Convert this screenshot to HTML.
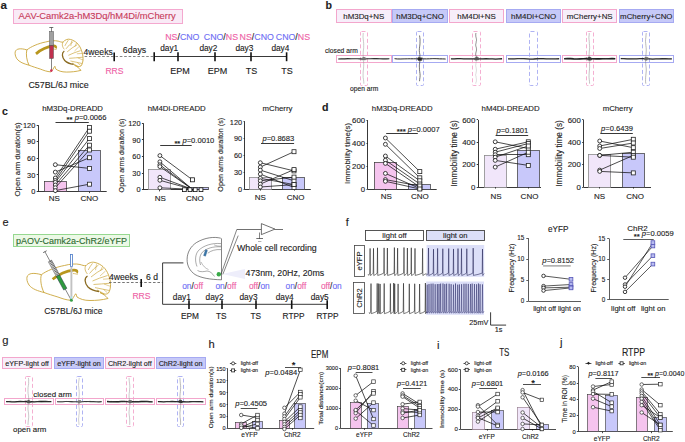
<!DOCTYPE html>
<html><head><meta charset="utf-8"><style>
html,body{margin:0;padding:0;background:#fff;}
body{width:685px;height:442px;overflow:hidden;}
svg{display:block;font-family:"Liberation Sans", sans-serif;}
</style></head><body>
<svg width="685" height="442" viewBox="0 0 685 442">
<rect width="685" height="442" fill="#fff"/>
<text x="0.60" y="9.10" font-size="11.6" fill="#222" stroke="#222" stroke-width="0.12" font-weight="bold">a</text>
<rect x="13.50" y="9.50" width="169.00" height="14.00" fill="#f9eaf6" stroke="#f4a8cf" stroke-width="1"/>
<text x="18.60" y="19.00" font-size="9.4" fill="#c73a5a" stroke="#c73a5a" stroke-width="0.12">AAV-Camk2a-hM3Dq/hM4Di/mCherry</text>
<path d="M15.20,51.88 C16.01,48.45 20.88,48.02 26.89,49.91 C30.63,46.73 38.75,43.29 45.57,42.01 C50.11,40.72 54.98,40.29 58.23,41.15 C59.85,41.58 61.48,42.44 63.10,42.09 C64.73,39.86 67.97,38.57 70.41,39.43 C75.28,40.72 79.34,44.15 81.37,50.17 C83.40,55.32 83.81,61.33 81.37,65.63 C79.34,67.35 76.90,66.49 74.47,65.20 M80.96,70.35 C76.09,71.64 71.22,72.07 66.35,72.07 C61.48,72.07 58.23,70.78 55.80,69.06 C54.98,67.35 55.39,65.63 54.58,66.49 C53.36,68.21 52.55,70.78 50.92,71.90 C46.86,71.64 43.62,70.35 40.29,69.06 C36.31,67.78 32.25,66.49 29.00,65.20 C24.13,63.91 19.26,62.19 16.82,58.76 C15.20,56.18 14.88,53.60 15.20,51.88" stroke="#c8a030" stroke-width="0.85" fill="none"/>
<path d="M26.89,49.91 C25.75,53.60 26.57,60.47 29.00,65.20" stroke="#c8a030" stroke-width="0.85" fill="none"/>
<path d="M35.98,53.86 C40.37,50.17 46.86,46.73 53.03,45.96 C54.98,45.70 56.44,46.73 55.39,48.11" stroke="#b8961e" stroke-width="2.72" fill="none"/>
<path d="M52.55,48.88 C54.17,48.88 55.80,49.74 56.61,49.31" stroke="#c8a030" stroke-width="0.68" fill="none"/>
<path d="M63.10,42.09 C61.48,44.15 62.70,47.59 64.32,49.31" stroke="#c8a030" stroke-width="0.68" fill="none"/>
<path d="M64.89,45.87 Q66.35,42.87 68.38,40.12" stroke="#c8a030" stroke-width="0.6375" fill="none"/>
<path d="M65.94,48.88 Q69.19,44.58 73.25,41.58" stroke="#c8a030" stroke-width="0.6375" fill="none"/>
<path d="M67.16,51.88 Q72.03,47.59 77.31,44.67" stroke="#c8a030" stroke-width="0.6375" fill="none"/>
<path d="M68.38,55.32 Q73.66,52.74 80.64,50.60" stroke="#c8a030" stroke-width="0.6375" fill="none"/>
<path d="M69.19,58.33 Q75.28,57.90 82.75,57.21" stroke="#c8a030" stroke-width="0.6375" fill="none"/>
<path d="M70.41,60.99 Q76.09,62.19 82.02,63.48" stroke="#c8a030" stroke-width="0.6375" fill="none"/>
<path d="M72.03,63.05 Q75.28,64.77 78.12,66.49" stroke="#c8a030" stroke-width="0.6375" fill="none"/>
<path d="M70.82,46.04 L71.63,40.89" stroke="#c8a030" stroke-width="0.51" fill="none"/>
<path d="M74.88,46.56 L76.50,42.87" stroke="#c8a030" stroke-width="0.51" fill="none"/>
<path d="M74.47,51.03 L78.93,46.73" stroke="#c8a030" stroke-width="0.51" fill="none"/>
<path d="M76.90,53.77 L82.02,53.43" stroke="#c8a030" stroke-width="0.51" fill="none"/>
<path d="M77.72,57.90 L83.24,60.04" stroke="#c8a030" stroke-width="0.51" fill="none"/>
<path d="M77.31,62.62 L80.56,65.46" stroke="#c8a030" stroke-width="0.51" fill="none"/>
<path d="M64.32,51.03 C61.48,52.74 61.88,57.04 64.73,60.47 C67.16,63.05 70.41,63.91 73.66,64.34" stroke="#8a6a20" stroke-width="1.275" fill="none"/>
<path d="M74.47,65.20 C76.90,66.49 79.34,68.21 80.96,70.35" stroke="#c8a030" stroke-width="0.85" fill="none"/>
<line x1="51.50" y1="27.50" x2="51.50" y2="70.50" stroke="#333" stroke-width="0.6"/>
<line x1="49.30" y1="27.50" x2="53.30" y2="27.50" stroke="#333" stroke-width="0.7"/>
<rect x="49.50" y="31.50" width="4.00" height="14.00" fill="#a0a0a0" stroke="#555" stroke-width="0.5"/>
<rect x="49.50" y="45.50" width="4.00" height="13.00" fill="#c0304e" stroke="#555" stroke-width="0.5"/>
<circle cx="51.30" cy="70.60" r="1.3" fill="#d0305a" stroke="none" stroke-width="0"/>
<text x="28.40" y="87.60" font-size="8.9" fill="#222" stroke="#222" stroke-width="0.12">C57BL/6J mice</text>
<line x1="84.60" y1="56.50" x2="154.00" y2="56.50" stroke="#777" stroke-width="0.9" stroke-dasharray="2.6,1.8"/>
<text x="83.60" y="54.70" font-size="8.6" fill="#222" stroke="#222" stroke-width="0.12">4weeks</text>
<text x="122.80" y="52.90" font-size="8.8" fill="#222" stroke="#222" stroke-width="0.12">6days</text>
<line x1="114.20" y1="52.60" x2="114.20" y2="61.20" stroke="#111" stroke-width="1.6"/>
<text x="105.40" y="73.60" font-size="8.6" fill="#ee62a6" stroke="#ee62a6" stroke-width="0.12">RRS</text>
<line x1="154.20" y1="56.50" x2="286.60" y2="56.50" stroke="#222" stroke-width="0.9"/>
<line x1="154.20" y1="52.30" x2="154.20" y2="61.20" stroke="#111" stroke-width="1.6"/>
<line x1="178.00" y1="52.30" x2="178.00" y2="61.20" stroke="#111" stroke-width="1.6"/>
<line x1="215.00" y1="52.30" x2="215.00" y2="61.20" stroke="#111" stroke-width="1.6"/>
<line x1="251.00" y1="52.30" x2="251.00" y2="61.20" stroke="#111" stroke-width="1.6"/>
<line x1="286.60" y1="52.30" x2="286.60" y2="61.20" stroke="#111" stroke-width="1.6"/>
<text x="160.20" y="50.50" font-size="8.3" fill="#222" stroke="#222" stroke-width="0.12">day1</text>
<text x="199.40" y="50.50" font-size="8.3" fill="#222" stroke="#222" stroke-width="0.12">day2</text>
<text x="235.40" y="50.50" font-size="8.3" fill="#222" stroke="#222" stroke-width="0.12">day3</text>
<text x="271.40" y="50.50" font-size="8.3" fill="#222" stroke="#222" stroke-width="0.12">day4</text>
<text x="165.20" y="39.60" font-size="8.8" stroke-width="0.12"><tspan fill="#ee62a6" stroke="#ee62a6">NS</tspan><tspan fill="#222" stroke="#222">/</tspan><tspan fill="#6e6ef4" stroke="#6e6ef4">CNO</tspan></text>
<text x="203.80" y="39.60" font-size="8.8" stroke-width="0.12"><tspan fill="#6e6ef4" stroke="#6e6ef4">CNO</tspan><tspan fill="#222" stroke="#222">/</tspan><tspan fill="#ee62a6" stroke="#ee62a6">NS</tspan></text>
<text x="239.60" y="39.60" font-size="8.8" stroke-width="0.12"><tspan fill="#ee62a6" stroke="#ee62a6">NS</tspan><tspan fill="#222" stroke="#222">/</tspan><tspan fill="#6e6ef4" stroke="#6e6ef4">CNO</tspan></text>
<text x="275.80" y="39.60" font-size="8.8" stroke-width="0.12"><tspan fill="#6e6ef4" stroke="#6e6ef4">CNO</tspan><tspan fill="#222" stroke="#222">/</tspan><tspan fill="#ee62a6" stroke="#ee62a6">NS</tspan></text>
<text x="170.20" y="74.00" font-size="9.0" fill="#222" stroke="#222" stroke-width="0.12">EPM</text>
<text x="207.70" y="74.00" font-size="9.0" fill="#222" stroke="#222" stroke-width="0.12">EPM</text>
<text x="245.70" y="74.00" font-size="9.0" fill="#222" stroke="#222" stroke-width="0.12">TS</text>
<text x="281.20" y="74.00" font-size="9.0" fill="#222" stroke="#222" stroke-width="0.12">TS</text>
<text x="325.60" y="8.90" font-size="10.6" fill="#222" stroke="#222" stroke-width="0.12" font-weight="bold">b</text>
<rect x="336.50" y="9.50" width="55.00" height="13.00" fill="#f7eefa" stroke="#f3a6cc" stroke-width="1"/>
<text x="363.80" y="18.60" font-size="7.9" fill="#222" stroke="#222" stroke-width="0.12" text-anchor="middle">hM3Dq+NS</text>
<rect x="360.50" y="31.50" width="7.00" height="54.00" fill="none" stroke="#f3a6cc" stroke-width="0.9" stroke-dasharray="4,2.4" rx="1"/>
<rect x="336.50" y="55.50" width="55.00" height="7.00" fill="none" stroke="#f3a6cc" stroke-width="1"/>
<polyline points="363.23,33.0 363.10,35.1 363.00,37.2 363.27,39.3 363.50,41.5 363.68,43.6 363.68,45.7 363.69,47.8 363.45,49.9 363.19,52.0 363.17,54.1 363.17,56.2 363.11,58.4 363.52,60.5 363.68,62.6 363.72,64.7 363.63,66.8 363.51,68.9 363.23,71.0 363.12,73.1 363.10,75.2 363.14,77.4 363.50,79.5 363.76,81.6 363.85,83.7" fill="none" stroke="#8a8a8a" stroke-width="0.45" stroke-opacity="1.0"/>
<polyline points="338.2,58.99 341.4,58.90 344.6,58.89 347.8,58.66 351.0,58.79 354.2,58.74 357.4,58.79 360.6,58.89 363.8,59.08 367.0,58.75 370.2,58.82 373.4,58.63 376.6,58.61 379.8,58.79 383.0,58.86 386.2,58.85 389.4,58.82" fill="none" stroke="#2a2a2a" stroke-width="1.1" stroke-opacity="1.0"/>
<polyline points="339.1,58.98 341.2,58.42 343.2,58.50 345.3,58.83 347.3,59.11 349.4,59.20 351.5,58.82 353.5,58.64 355.6,58.52 357.6,58.59 359.7,58.89 361.7,58.96 363.8,59.39 365.9,59.19 367.9,58.70 370.0,58.57 372.0,58.43 374.1,58.95 376.1,58.94 378.2,59.08 380.3,58.88 382.3,58.69 384.4,58.59 386.4,58.72 388.5,58.99" fill="none" stroke="#666" stroke-width="0.3" stroke-opacity="1.0"/>
<polyline points="365.15,59.29 365.18,58.83 363.84,57.07 361.58,59.14 361.50,59.39 363.05,58.30 362.16,58.22 362.62,58.59 363.42,57.95 363.41,59.77 363.68,59.68 363.84,57.10 365.74,59.10 365.64,59.59 362.21,59.64 363.97,56.97 363.22,57.77 365.45,59.69 361.40,58.38 364.63,58.19 361.94,59.73 361.57,59.80 365.47,58.91 365.19,57.11 362.50,58.76 362.57,58.16 363.30,57.65 364.51,60.29 364.04,57.36 362.16,57.93 363.60,58.78 362.11,60.19 361.50,58.67 364.28,58.69 363.55,57.36 365.02,58.82 362.04,58.86 364.86,57.90 364.19,57.50 366.21,58.08" fill="none" stroke="#777" stroke-width="0.35"/>
<rect x="392.50" y="9.50" width="55.00" height="13.00" fill="#c6c9f8" stroke="#a6aaf2" stroke-width="1"/>
<text x="420.10" y="18.60" font-size="7.9" fill="#222" stroke="#222" stroke-width="0.12" text-anchor="middle">hM3Dq+CNO</text>
<rect x="416.50" y="31.50" width="7.00" height="54.00" fill="none" stroke="#a6aaf2" stroke-width="0.9" stroke-dasharray="4,2.4" rx="1"/>
<rect x="392.50" y="55.50" width="55.00" height="7.00" fill="none" stroke="#a6aaf2" stroke-width="1"/>
<polyline points="419.54,35.5 419.79,37.4 420.04,39.3 420.00,41.2 420.01,43.1 419.87,45.0 419.62,46.9 419.39,48.8 419.30,50.7 419.49,52.6 419.85,54.5 419.87,56.4 420.01,58.3 420.07,60.3 419.77,62.2 419.48,64.1 419.34,66.0 419.45,67.9 419.48,69.8 419.73,71.7 419.99,73.6 420.11,75.5 419.97,77.4 419.68,79.3 419.55,81.2" fill="none" stroke="#3a3a3a" stroke-width="0.7" stroke-opacity="1.0"/>
<polyline points="394.5,58.66 397.7,58.91 400.9,59.01 404.1,58.89 407.3,58.79 410.5,58.71 413.7,58.72 416.9,58.82 420.1,58.88 423.3,58.83 426.5,58.84 429.7,58.76 432.9,58.62 436.1,58.61 439.3,58.75 442.5,58.85 445.7,59.05" fill="none" stroke="#333" stroke-width="1.0" stroke-opacity="1.0"/>
<polyline points="395.4,59.06 397.5,59.33 399.5,59.06 401.6,58.55 403.6,58.62 405.7,58.80 407.8,58.87 409.8,58.94 411.9,59.39 413.9,59.02 416.0,58.63 418.0,58.43 420.1,58.68 422.2,58.82 424.2,58.98 426.3,59.28 428.3,59.02 430.4,58.92 432.5,58.58 434.5,58.69 436.6,58.95 438.6,59.22 440.7,59.47 442.7,59.02 444.8,58.63" fill="none" stroke="#666" stroke-width="0.3" stroke-opacity="1.0"/>
<polyline points="420.30,57.01 419.05,59.34 418.87,56.82 417.78,59.71 422.08,59.17 420.69,60.30 418.12,57.47 417.52,58.50 419.63,59.51 417.79,59.21 419.96,58.39 420.11,59.93 417.54,59.17 420.02,59.28 422.19,57.55 420.17,58.36 420.02,59.74 420.95,58.40 421.02,59.56 420.42,57.84 421.65,58.67 419.38,58.01 419.42,60.81 421.48,58.78 419.71,59.24 420.69,60.10 418.00,58.58 419.45,59.52 418.55,58.35 418.55,60.63 419.81,58.66 422.76,58.21 417.97,60.21 422.22,60.12 421.37,60.62 418.89,56.83 419.37,60.51 421.04,58.51 420.93,60.33 420.54,59.19" fill="none" stroke="#222" stroke-width="0.35"/>
<rect x="449.50" y="9.50" width="54.00" height="13.00" fill="#f7eefa" stroke="#f3a6cc" stroke-width="1"/>
<text x="476.50" y="18.60" font-size="7.9" fill="#222" stroke="#222" stroke-width="0.12" text-anchor="middle">hM4Di+NS</text>
<rect x="472.50" y="31.50" width="8.00" height="54.00" fill="none" stroke="#f3a6cc" stroke-width="0.9" stroke-dasharray="4,2.4" rx="1"/>
<rect x="449.50" y="55.50" width="54.00" height="7.00" fill="none" stroke="#f3a6cc" stroke-width="1"/>
<polyline points="475.97,33.0 475.72,34.1 475.78,35.1 475.79,36.2 476.01,37.2 476.28,38.3 476.47,39.3 476.52,40.4 476.24,41.5 476.11,42.5 475.92,43.6 475.70,44.6 475.76,45.7 476.00,46.7 476.37,47.8 476.46,48.8 476.50,49.9 476.34,51.0 476.04,52.0 475.82,53.1 475.66,54.1 475.76,55.2 476.14,56.2 476.34,57.3 476.50,58.4" fill="none" stroke="#444" stroke-width="0.6" stroke-opacity="1.0"/>
<polyline points="476.05,58.4 476.32,59.4 476.49,60.5 476.31,61.5 476.11,62.6 475.90,63.6 475.84,64.7 475.69,65.7 475.95,66.8 476.17,67.9 476.27,68.9 476.46,70.0 476.37,71.0 476.17,72.1 476.05,73.1 475.69,74.2 475.66,75.2 476.00,76.3 476.12,77.4 476.29,78.4 476.41,79.5 476.35,80.5 476.28,81.6 475.88,82.6 475.72,83.7" fill="none" stroke="#aaa" stroke-width="0.4" stroke-opacity="1.0"/>
<polyline points="450.9,58.93 454.1,58.93 457.3,58.70 460.5,58.59 463.7,58.79 466.9,58.82 470.1,58.90 473.3,58.91 476.5,58.94 479.7,58.80 482.9,58.78 486.1,58.62 489.3,58.85 492.5,58.92 495.7,59.04 498.9,58.92 502.1,58.76" fill="none" stroke="#222" stroke-width="1.3" stroke-opacity="1.0"/>
<polyline points="451.8,58.95 453.9,59.07 455.9,59.12 458.0,58.96 460.0,58.90 462.1,58.55 464.1,58.84 466.2,58.77 468.3,58.88 470.3,59.10 472.4,59.15 474.4,58.73 476.5,58.53 478.6,58.43 480.6,58.90 482.7,59.29 484.7,59.11 486.8,58.91 488.9,58.88 490.9,58.47 493.0,58.49 495.0,58.73 497.1,59.02 499.1,59.25 501.2,59.12" fill="none" stroke="#666" stroke-width="0.3" stroke-opacity="1.0"/>
<polyline points="478.51,59.83 475.53,58.23 476.87,57.22 477.46,57.36 476.12,56.99 476.05,59.33 477.21,58.37 474.07,58.08 475.72,59.66 475.64,59.43 476.50,57.66 478.30,59.51 476.44,59.68 478.87,59.00 475.05,59.92 474.09,59.03 478.39,59.48 477.16,57.83 475.12,59.29 475.37,60.61 476.80,60.57 478.71,59.30 478.52,59.69 477.60,59.19 476.38,59.90 476.81,57.34 477.57,59.05 474.59,59.65 475.36,57.69 477.39,56.91 478.96,58.15 478.76,57.80 476.05,57.11 475.09,58.15 477.34,57.70 477.93,58.03 478.87,59.07 476.32,58.81 477.46,57.11 477.76,57.81" fill="none" stroke="#555" stroke-width="0.35"/>
<rect x="506.50" y="9.50" width="54.00" height="13.00" fill="#c6c9f8" stroke="#a6aaf2" stroke-width="1"/>
<text x="533.60" y="18.60" font-size="7.9" fill="#222" stroke="#222" stroke-width="0.12" text-anchor="middle">hM4Di+CNO</text>
<rect x="529.50" y="31.50" width="8.00" height="54.00" fill="none" stroke="#a6aaf2" stroke-width="0.9" stroke-dasharray="4,2.4" rx="1"/>
<rect x="506.50" y="55.50" width="54.00" height="7.00" fill="none" stroke="#a6aaf2" stroke-width="1"/>
<polyline points="508.0,58.86 511.2,58.79 514.4,58.86 517.6,58.68 520.8,58.71 524.0,58.71 527.2,58.80 530.4,59.07 533.6,58.98 536.8,58.75 540.0,58.70 543.2,58.68 546.4,58.80 549.6,58.90 552.8,58.89 556.0,58.93 559.2,58.77" fill="none" stroke="#2a2a2a" stroke-width="1.3" stroke-opacity="1.0"/>
<polyline points="508.9,58.88 511.0,58.97 513.0,59.42 515.1,58.87 517.1,58.65 519.2,58.49 521.2,58.70 523.3,58.77 525.4,59.11 527.4,59.23 529.5,59.11 531.5,58.72 533.6,58.43 535.7,58.70 537.7,58.70 539.8,59.25 541.8,59.37 543.9,59.17 546.0,58.93 548.0,58.53 550.1,58.73 552.1,58.67 554.2,58.93 556.2,59.04 558.3,59.07" fill="none" stroke="#666" stroke-width="0.3" stroke-opacity="1.0"/>
<rect x="562.50" y="9.50" width="54.00" height="13.00" fill="#f7eefa" stroke="#f3a6cc" stroke-width="1"/>
<text x="589.70" y="18.60" font-size="7.9" fill="#222" stroke="#222" stroke-width="0.12" text-anchor="middle">mCherry+NS</text>
<rect x="586.50" y="31.50" width="7.00" height="54.00" fill="none" stroke="#f3a6cc" stroke-width="0.9" stroke-dasharray="4,2.4" rx="1"/>
<rect x="562.50" y="55.50" width="54.00" height="7.00" fill="none" stroke="#f3a6cc" stroke-width="1"/>
<polyline points="589.26,33.0 589.11,35.1 588.90,37.2 588.99,39.3 589.28,41.5 589.33,43.6 589.56,45.7 589.68,47.8 589.44,49.9 589.23,52.0 589.14,54.1 589.06,56.2 588.96,58.4 589.12,60.5 589.52,62.6 589.57,64.7 589.67,66.8 589.54,68.9 589.32,71.0 589.16,73.1 589.05,75.2 589.04,77.4 589.26,79.5 589.49,81.6 589.64,83.7" fill="none" stroke="#888" stroke-width="0.5" stroke-opacity="1.0"/>
<polyline points="564.1,58.73 567.3,58.63 570.5,58.60 573.7,58.92 576.9,59.03 580.1,58.87 583.3,58.82 586.5,58.60 589.7,58.66 592.9,58.74 596.1,58.88 599.3,58.90 602.5,58.78 605.7,58.77 608.9,58.81 612.1,58.56 615.3,58.70" fill="none" stroke="#1a1a1a" stroke-width="1.6" stroke-opacity="1.0"/>
<polyline points="565.0,58.83 567.1,58.89 569.1,59.19 571.2,59.03 573.2,58.89 575.3,58.63 577.4,58.66 579.4,58.69 581.5,59.14 583.5,59.29 585.6,59.42 587.6,59.04 589.7,58.94 591.8,58.45 593.8,58.90 595.9,59.12 597.9,59.52 600.0,59.23 602.1,58.99 604.1,58.71 606.2,58.47 608.2,58.85 610.3,59.15 612.3,59.10 614.4,59.09" fill="none" stroke="#666" stroke-width="0.3" stroke-opacity="1.0"/>
<polyline points="587.52,59.56 587.78,58.44 590.33,57.86 591.69,58.55 591.66,59.92 590.07,60.99 589.19,57.88 591.25,58.51 589.91,58.75 589.04,60.49 589.43,60.08 591.43,59.86 590.58,57.79 588.74,57.36 588.82,56.68 588.06,58.48 587.36,59.06 592.48,58.78 589.42,59.45 590.90,58.47 589.25,58.02 587.32,58.78 591.30,58.41 587.46,59.72 588.78,58.72 588.97,59.73 589.81,57.00 591.39,59.62 590.07,56.77 589.35,57.11 586.98,59.00 588.32,59.04 589.16,60.10 588.48,59.45 587.85,60.26 590.28,59.46 589.86,59.72 592.24,58.59 589.75,58.72 588.57,57.11" fill="none" stroke="#333" stroke-width="0.35"/>
<rect x="619.50" y="9.50" width="54.00" height="13.00" fill="#c6c9f8" stroke="#a6aaf2" stroke-width="1"/>
<text x="646.30" y="18.60" font-size="7.9" fill="#222" stroke="#222" stroke-width="0.12" text-anchor="middle">mCherry+CNO</text>
<rect x="642.50" y="31.50" width="7.00" height="54.00" fill="none" stroke="#a6aaf2" stroke-width="0.9" stroke-dasharray="4,2.4" rx="1"/>
<rect x="619.50" y="55.50" width="54.00" height="7.00" fill="none" stroke="#a6aaf2" stroke-width="1"/>
<polyline points="646.24,33.0 646.02,35.1 645.90,37.2 645.62,39.3 645.51,41.5 645.72,43.6 645.91,45.7 646.16,47.8 646.27,49.9 646.16,52.0 646.04,54.1 645.77,56.2 645.69,58.4 645.45,60.5 645.70,62.6 645.78,64.7 646.05,66.8 646.26,68.9 646.26,71.0 646.06,73.1 645.83,75.2 645.64,77.4 645.57,79.5 645.56,81.6 645.82,83.7" fill="none" stroke="#777" stroke-width="0.5" stroke-opacity="1.0"/>
<polyline points="620.7,58.61 623.9,58.67 627.1,58.88 630.3,58.96 633.5,58.90 636.7,58.83 639.9,58.70 643.1,58.58 646.3,58.80 649.5,58.91 652.7,59.03 655.9,58.81 659.1,58.84 662.3,58.62 665.5,58.73 668.7,58.84 671.9,58.83" fill="none" stroke="#222" stroke-width="1.3" stroke-opacity="1.0"/>
<polyline points="621.6,58.26 623.7,58.65 625.7,59.02 627.8,59.11 629.8,59.32 631.9,59.10 633.9,58.83 636.0,58.65 638.1,58.65 640.1,58.73 642.2,59.24 644.2,59.08 646.3,59.07 648.4,58.69 650.4,58.48 652.5,58.68 654.5,58.87 656.6,58.92 658.6,59.01 660.7,59.17 662.8,58.65 664.8,58.51 666.9,58.74 668.9,59.09 671.0,59.16" fill="none" stroke="#666" stroke-width="0.3" stroke-opacity="1.0"/>
<polyline points="647.62,58.86 646.11,57.04 648.18,57.65 646.79,59.70 644.39,58.54 647.02,60.35 646.00,60.36 645.48,57.97 644.53,59.53 645.05,58.45 647.61,58.37 645.99,59.36 648.20,58.29 645.44,57.62 646.40,59.00 644.28,58.17 647.04,58.76 646.88,59.00 647.48,60.17 645.32,57.26 645.55,59.32 647.91,57.38 646.72,59.11 647.35,59.49 645.20,57.46 646.48,59.58 643.99,58.38 646.87,58.77 646.65,59.04 644.75,58.45 646.21,57.70 647.49,57.40 645.75,60.60 646.18,58.73 646.32,57.25 645.93,57.37 644.66,59.79 646.00,58.50 644.85,59.39 645.87,60.33" fill="none" stroke="#666" stroke-width="0.35"/>
<text x="325.00" y="52.60" font-size="6.7" fill="#222" stroke="#222" stroke-width="0.12">closed arm</text>
<text x="350.00" y="91.00" font-size="6.7" fill="#222" stroke="#222" stroke-width="0.12">open arm</text>
<line x1="38.50" y1="125.10" x2="38.50" y2="191.50" stroke="#222" stroke-width="0.9"/>
<line x1="36.70" y1="191.50" x2="38.00" y2="191.50" stroke="#222" stroke-width="0.9"/>
<text x="35.30" y="194.16" font-size="7.4" fill="#222" stroke="#222" stroke-width="0.12" text-anchor="end">0</text>
<line x1="36.70" y1="174.50" x2="38.00" y2="174.50" stroke="#222" stroke-width="0.9"/>
<text x="35.30" y="177.56" font-size="7.4" fill="#222" stroke="#222" stroke-width="0.12" text-anchor="end">30</text>
<line x1="36.70" y1="158.50" x2="38.00" y2="158.50" stroke="#222" stroke-width="0.9"/>
<text x="35.30" y="160.96" font-size="7.4" fill="#222" stroke="#222" stroke-width="0.12" text-anchor="end">60</text>
<line x1="36.70" y1="141.50" x2="38.00" y2="141.50" stroke="#222" stroke-width="0.9"/>
<text x="35.30" y="144.36" font-size="7.4" fill="#222" stroke="#222" stroke-width="0.12" text-anchor="end">90</text>
<line x1="36.70" y1="125.50" x2="38.00" y2="125.50" stroke="#222" stroke-width="0.9"/>
<text x="35.30" y="127.76" font-size="7.4" fill="#222" stroke="#222" stroke-width="0.12" text-anchor="end">120</text>
<line x1="38.00" y1="191.50" x2="106.70" y2="191.50" stroke="#222" stroke-width="0.9"/>
<rect x="44.50" y="181.50" width="22.00" height="10.00" fill="#f5c4ee" stroke="#333" stroke-width="0.7"/>
<rect x="78.50" y="150.50" width="22.00" height="41.00" fill="#c8c8fa" stroke="#333" stroke-width="0.7"/>
<line x1="55.50" y1="191.50" x2="55.50" y2="193.10" stroke="#222" stroke-width="0.8"/>
<line x1="89.50" y1="191.50" x2="89.50" y2="193.10" stroke="#222" stroke-width="0.8"/>
<line x1="55.30" y1="164.70" x2="89.40" y2="168.40" stroke="#111" stroke-width="0.75"/>
<line x1="55.30" y1="172.10" x2="89.40" y2="157.70" stroke="#111" stroke-width="0.75"/>
<line x1="55.30" y1="178.00" x2="89.40" y2="127.40" stroke="#111" stroke-width="0.75"/>
<line x1="55.30" y1="180.50" x2="89.40" y2="131.20" stroke="#111" stroke-width="0.75"/>
<line x1="55.30" y1="182.30" x2="89.40" y2="138.60" stroke="#111" stroke-width="0.75"/>
<line x1="55.30" y1="185.00" x2="89.40" y2="145.20" stroke="#111" stroke-width="0.75"/>
<line x1="55.30" y1="187.70" x2="89.40" y2="150.00" stroke="#111" stroke-width="0.75"/>
<line x1="55.30" y1="190.60" x2="89.40" y2="184.20" stroke="#111" stroke-width="0.75"/>
<circle cx="55.30" cy="164.70" r="1.95" fill="#fff" stroke="#111" stroke-width="0.8"/>
<circle cx="55.30" cy="172.10" r="1.95" fill="#fff" stroke="#111" stroke-width="0.8"/>
<circle cx="55.30" cy="178.00" r="1.95" fill="#fff" stroke="#111" stroke-width="0.8"/>
<circle cx="55.30" cy="180.50" r="1.95" fill="#fff" stroke="#111" stroke-width="0.8"/>
<circle cx="55.30" cy="182.30" r="1.95" fill="#fff" stroke="#111" stroke-width="0.8"/>
<circle cx="55.30" cy="185.00" r="1.95" fill="#fff" stroke="#111" stroke-width="0.8"/>
<circle cx="55.30" cy="187.70" r="1.95" fill="#fff" stroke="#111" stroke-width="0.8"/>
<circle cx="55.30" cy="190.60" r="1.95" fill="#fff" stroke="#111" stroke-width="0.8"/>
<rect x="87.40" y="166.40" width="4.0" height="4.0" fill="#fff" stroke="#222" stroke-width="0.8"/>
<rect x="87.40" y="155.70" width="4.0" height="4.0" fill="#fff" stroke="#222" stroke-width="0.8"/>
<rect x="87.40" y="125.40" width="4.0" height="4.0" fill="#fff" stroke="#222" stroke-width="0.8"/>
<rect x="87.40" y="129.20" width="4.0" height="4.0" fill="#fff" stroke="#222" stroke-width="0.8"/>
<rect x="87.40" y="136.60" width="4.0" height="4.0" fill="#fff" stroke="#222" stroke-width="0.8"/>
<rect x="87.40" y="143.20" width="4.0" height="4.0" fill="#fff" stroke="#222" stroke-width="0.8"/>
<rect x="87.40" y="148.00" width="4.0" height="4.0" fill="#fff" stroke="#222" stroke-width="0.8"/>
<rect x="87.40" y="182.20" width="4.0" height="4.0" fill="#fff" stroke="#222" stroke-width="0.8"/>
<text x="72.60" y="111.40" font-size="7.8" fill="#222" stroke="#222" stroke-width="0.12" text-anchor="middle">hM3Dq-DREADD</text>
<line x1="55.50" y1="122.50" x2="88.80" y2="122.50" stroke="#222" stroke-width="0.9"/>
<text x="66.60" y="119.70" font-size="7.6" fill="#222" stroke="#222" stroke-width="0.12"><tspan dy="2.58" font-weight="bold">**</tspan><tspan dy="-2.58"> </tspan><tspan font-style="italic">p</tspan><tspan>=0.0066</tspan></text>
<text x="54.40" y="201.00" font-size="8.0" fill="#222" stroke="#222" stroke-width="0.12" text-anchor="middle">NS</text>
<text x="89.30" y="201.00" font-size="8.0" fill="#222" stroke="#222" stroke-width="0.12" text-anchor="middle">CNO</text>
<text x="0" y="0" font-size="7.8" fill="#222" stroke="#222" stroke-width="0.12" text-anchor="middle" transform="translate(20.01,159.40) rotate(-90)">Open arm duration(s)</text>
<text x="2.00" y="114.60" font-size="10.6" fill="#222" stroke="#222" stroke-width="0.12" font-weight="bold">c</text>
<line x1="143.50" y1="123.20" x2="143.50" y2="189.80" stroke="#222" stroke-width="0.9"/>
<line x1="141.90" y1="189.50" x2="143.20" y2="189.50" stroke="#222" stroke-width="0.9"/>
<text x="140.50" y="192.46" font-size="7.4" fill="#222" stroke="#222" stroke-width="0.12" text-anchor="end">0</text>
<line x1="141.90" y1="173.50" x2="143.20" y2="173.50" stroke="#222" stroke-width="0.9"/>
<text x="140.50" y="175.81" font-size="7.4" fill="#222" stroke="#222" stroke-width="0.12" text-anchor="end">30</text>
<line x1="141.90" y1="156.50" x2="143.20" y2="156.50" stroke="#222" stroke-width="0.9"/>
<text x="140.50" y="159.16" font-size="7.4" fill="#222" stroke="#222" stroke-width="0.12" text-anchor="end">60</text>
<line x1="141.90" y1="139.50" x2="143.20" y2="139.50" stroke="#222" stroke-width="0.9"/>
<text x="140.50" y="142.51" font-size="7.4" fill="#222" stroke="#222" stroke-width="0.12" text-anchor="end">90</text>
<line x1="141.90" y1="123.50" x2="143.20" y2="123.50" stroke="#222" stroke-width="0.9"/>
<text x="140.50" y="125.86" font-size="7.4" fill="#222" stroke="#222" stroke-width="0.12" text-anchor="end">120</text>
<line x1="143.20" y1="189.50" x2="208.60" y2="189.50" stroke="#222" stroke-width="0.9"/>
<rect x="148.50" y="169.50" width="22.00" height="20.00" fill="#f1e6fa" stroke="#8a8a8a" stroke-width="0.8"/>
<rect x="187.50" y="187.50" width="21.00" height="2.00" fill="#c8c8fa" stroke="#333" stroke-width="0.7"/>
<line x1="159.50" y1="189.80" x2="159.50" y2="191.40" stroke="#222" stroke-width="0.8"/>
<line x1="192.50" y1="189.80" x2="192.50" y2="191.40" stroke="#222" stroke-width="0.8"/>
<line x1="159.90" y1="155.60" x2="192.40" y2="179.80" stroke="#111" stroke-width="0.75"/>
<line x1="159.90" y1="161.80" x2="192.40" y2="189.30" stroke="#111" stroke-width="0.75"/>
<line x1="159.90" y1="164.80" x2="192.40" y2="189.30" stroke="#111" stroke-width="0.75"/>
<line x1="159.90" y1="166.60" x2="192.40" y2="189.30" stroke="#111" stroke-width="0.75"/>
<line x1="159.90" y1="177.30" x2="192.40" y2="189.30" stroke="#111" stroke-width="0.75"/>
<line x1="159.90" y1="180.30" x2="192.40" y2="189.30" stroke="#111" stroke-width="0.75"/>
<line x1="159.90" y1="187.80" x2="192.40" y2="189.30" stroke="#111" stroke-width="0.75"/>
<circle cx="159.90" cy="155.60" r="1.95" fill="#fff" stroke="#111" stroke-width="0.8"/>
<circle cx="159.90" cy="161.80" r="1.95" fill="#fff" stroke="#111" stroke-width="0.8"/>
<circle cx="159.90" cy="164.80" r="1.95" fill="#fff" stroke="#111" stroke-width="0.8"/>
<circle cx="159.90" cy="166.60" r="1.95" fill="#fff" stroke="#111" stroke-width="0.8"/>
<circle cx="159.90" cy="177.30" r="1.95" fill="#fff" stroke="#111" stroke-width="0.8"/>
<circle cx="159.90" cy="180.30" r="1.95" fill="#fff" stroke="#111" stroke-width="0.8"/>
<circle cx="159.90" cy="187.80" r="1.95" fill="#fff" stroke="#111" stroke-width="0.8"/>
<rect x="182.50" y="187.80" width="3.8" height="3.8" fill="#fff" stroke="#111" stroke-width="0.8"/>
<rect x="188.10" y="187.80" width="3.8" height="3.8" fill="#fff" stroke="#111" stroke-width="0.8"/>
<rect x="193.30" y="187.80" width="3.8" height="3.8" fill="#fff" stroke="#111" stroke-width="0.8"/>
<rect x="199.10" y="187.80" width="3.8" height="3.8" fill="#fff" stroke="#111" stroke-width="0.8"/>
<rect x="190.40" y="177.80" width="4.0" height="4.0" fill="#fff" stroke="#111" stroke-width="0.8"/>
<text x="176.70" y="111.40" font-size="7.8" fill="#222" stroke="#222" stroke-width="0.12" text-anchor="middle">hM4Di-DREADD</text>
<line x1="160.20" y1="145.50" x2="191.70" y2="145.50" stroke="#222" stroke-width="0.9"/>
<text x="174.40" y="143.40" font-size="7.6" fill="#222" stroke="#222" stroke-width="0.12"><tspan dy="2.58" font-weight="bold">**</tspan><tspan dy="-2.58"> </tspan><tspan font-style="italic">p</tspan><tspan>=0.0010</tspan></text>
<text x="160.40" y="201.00" font-size="8.0" fill="#222" stroke="#222" stroke-width="0.12" text-anchor="middle">NS</text>
<text x="194.80" y="201.00" font-size="8.0" fill="#222" stroke="#222" stroke-width="0.12" text-anchor="middle">CNO</text>
<text x="0" y="0" font-size="7.2" fill="#222" stroke="#222" stroke-width="0.12" text-anchor="middle" transform="translate(123.79,155.50) rotate(-90)">Open arms duraiton (s)</text>
<line x1="244.50" y1="121.90" x2="244.50" y2="189.00" stroke="#222" stroke-width="0.9"/>
<line x1="243.60" y1="189.50" x2="244.90" y2="189.50" stroke="#222" stroke-width="0.9"/>
<text x="242.20" y="191.66" font-size="7.4" fill="#222" stroke="#222" stroke-width="0.12" text-anchor="end">0</text>
<line x1="243.60" y1="172.50" x2="244.90" y2="172.50" stroke="#222" stroke-width="0.9"/>
<text x="242.20" y="174.89" font-size="7.4" fill="#222" stroke="#222" stroke-width="0.12" text-anchor="end">30</text>
<line x1="243.60" y1="155.50" x2="244.90" y2="155.50" stroke="#222" stroke-width="0.9"/>
<text x="242.20" y="158.11" font-size="7.4" fill="#222" stroke="#222" stroke-width="0.12" text-anchor="end">60</text>
<line x1="243.60" y1="138.50" x2="244.90" y2="138.50" stroke="#222" stroke-width="0.9"/>
<text x="242.20" y="141.34" font-size="7.4" fill="#222" stroke="#222" stroke-width="0.12" text-anchor="end">90</text>
<line x1="243.60" y1="121.50" x2="244.90" y2="121.50" stroke="#222" stroke-width="0.9"/>
<text x="242.20" y="124.56" font-size="7.4" fill="#222" stroke="#222" stroke-width="0.12" text-anchor="end">120</text>
<line x1="244.90" y1="189.50" x2="310.80" y2="189.50" stroke="#222" stroke-width="0.9"/>
<rect x="249.50" y="177.50" width="22.00" height="12.00" fill="#f1e6fa" stroke="#8a8a8a" stroke-width="0.8"/>
<rect x="282.50" y="177.50" width="22.00" height="12.00" fill="#c8c8fa" stroke="#333" stroke-width="0.7"/>
<line x1="260.50" y1="189.00" x2="260.50" y2="190.60" stroke="#222" stroke-width="0.8"/>
<line x1="294.50" y1="189.00" x2="294.50" y2="190.60" stroke="#222" stroke-width="0.8"/>
<line x1="260.30" y1="162.70" x2="294.00" y2="170.90" stroke="#111" stroke-width="0.75"/>
<line x1="260.30" y1="167.10" x2="294.00" y2="151.70" stroke="#111" stroke-width="0.75"/>
<line x1="260.30" y1="170.10" x2="294.00" y2="180.80" stroke="#111" stroke-width="0.75"/>
<line x1="260.30" y1="174.10" x2="294.00" y2="187.50" stroke="#111" stroke-width="0.75"/>
<line x1="260.30" y1="178.30" x2="294.00" y2="184.60" stroke="#111" stroke-width="0.75"/>
<line x1="260.30" y1="180.80" x2="294.00" y2="177.10" stroke="#111" stroke-width="0.75"/>
<line x1="260.30" y1="184.10" x2="294.00" y2="169.60" stroke="#111" stroke-width="0.75"/>
<line x1="260.30" y1="187.00" x2="294.00" y2="184.60" stroke="#111" stroke-width="0.75"/>
<circle cx="260.30" cy="162.70" r="1.95" fill="#fff" stroke="#111" stroke-width="0.8"/>
<circle cx="260.30" cy="167.10" r="1.95" fill="#fff" stroke="#111" stroke-width="0.8"/>
<circle cx="260.30" cy="170.10" r="1.95" fill="#fff" stroke="#111" stroke-width="0.8"/>
<circle cx="260.30" cy="174.10" r="1.95" fill="#fff" stroke="#111" stroke-width="0.8"/>
<circle cx="260.30" cy="178.30" r="1.95" fill="#fff" stroke="#111" stroke-width="0.8"/>
<circle cx="260.30" cy="180.80" r="1.95" fill="#fff" stroke="#111" stroke-width="0.8"/>
<circle cx="260.30" cy="184.10" r="1.95" fill="#fff" stroke="#111" stroke-width="0.8"/>
<circle cx="260.30" cy="187.00" r="1.95" fill="#fff" stroke="#111" stroke-width="0.8"/>
<rect x="292.00" y="168.90" width="4.0" height="4.0" fill="#fff" stroke="#222" stroke-width="0.8"/>
<rect x="292.00" y="149.70" width="4.0" height="4.0" fill="#fff" stroke="#222" stroke-width="0.8"/>
<rect x="292.00" y="178.80" width="4.0" height="4.0" fill="#fff" stroke="#222" stroke-width="0.8"/>
<rect x="292.00" y="185.50" width="4.0" height="4.0" fill="#fff" stroke="#222" stroke-width="0.8"/>
<rect x="292.00" y="182.60" width="4.0" height="4.0" fill="#fff" stroke="#222" stroke-width="0.8"/>
<rect x="292.00" y="175.10" width="4.0" height="4.0" fill="#fff" stroke="#222" stroke-width="0.8"/>
<rect x="292.00" y="167.60" width="4.0" height="4.0" fill="#fff" stroke="#222" stroke-width="0.8"/>
<rect x="292.00" y="182.60" width="4.0" height="4.0" fill="#fff" stroke="#222" stroke-width="0.8"/>
<text x="277.50" y="111.40" font-size="7.8" fill="#222" stroke="#222" stroke-width="0.12" text-anchor="middle">mCherry</text>
<line x1="261.00" y1="143.50" x2="294.10" y2="143.50" stroke="#222" stroke-width="0.9"/>
<text x="262.40" y="140.80" font-size="7.6" fill="#222" stroke="#222" stroke-width="0.12"><tspan font-style="italic">p</tspan><tspan>=0.8683</tspan></text>
<text x="260.40" y="200.30" font-size="8.0" fill="#222" stroke="#222" stroke-width="0.12" text-anchor="middle">NS</text>
<text x="295.70" y="200.30" font-size="8.0" fill="#222" stroke="#222" stroke-width="0.12" text-anchor="middle">CNO</text>
<text x="0" y="0" font-size="7.2" fill="#222" stroke="#222" stroke-width="0.12" text-anchor="middle" transform="translate(223.49,154.70) rotate(-90)">Open arms duraiton (s)</text>
<text x="322.00" y="111.20" font-size="10.6" fill="#222" stroke="#222" stroke-width="0.12" font-weight="bold">d</text>
<line x1="367.50" y1="120.30" x2="367.50" y2="189.00" stroke="#222" stroke-width="0.9"/>
<line x1="366.50" y1="189.50" x2="367.80" y2="189.50" stroke="#222" stroke-width="0.9"/>
<text x="365.10" y="191.81" font-size="7.8" fill="#222" stroke="#222" stroke-width="0.12" text-anchor="end">0</text>
<line x1="366.50" y1="166.50" x2="367.80" y2="166.50" stroke="#222" stroke-width="0.9"/>
<text x="365.10" y="168.91" font-size="7.8" fill="#222" stroke="#222" stroke-width="0.12" text-anchor="end">200</text>
<line x1="366.50" y1="143.50" x2="367.80" y2="143.50" stroke="#222" stroke-width="0.9"/>
<text x="365.10" y="146.01" font-size="7.8" fill="#222" stroke="#222" stroke-width="0.12" text-anchor="end">400</text>
<line x1="366.50" y1="120.50" x2="367.80" y2="120.50" stroke="#222" stroke-width="0.9"/>
<text x="365.10" y="123.11" font-size="7.8" fill="#222" stroke="#222" stroke-width="0.12" text-anchor="end">600</text>
<line x1="367.80" y1="189.50" x2="436.70" y2="189.50" stroke="#222" stroke-width="0.9"/>
<rect x="374.50" y="162.50" width="22.00" height="27.00" fill="#f5c4ee" stroke="#333" stroke-width="0.7"/>
<rect x="408.50" y="184.50" width="22.00" height="5.00" fill="#c8c8fa" stroke="#333" stroke-width="0.7"/>
<line x1="385.50" y1="189.00" x2="385.50" y2="190.60" stroke="#222" stroke-width="0.8"/>
<line x1="419.50" y1="189.00" x2="419.50" y2="190.60" stroke="#222" stroke-width="0.8"/>
<line x1="385.40" y1="138.00" x2="419.80" y2="171.60" stroke="#111" stroke-width="0.75"/>
<line x1="385.40" y1="144.30" x2="419.80" y2="177.80" stroke="#111" stroke-width="0.75"/>
<line x1="385.40" y1="156.00" x2="419.80" y2="180.80" stroke="#111" stroke-width="0.75"/>
<line x1="385.40" y1="160.20" x2="419.80" y2="184.00" stroke="#111" stroke-width="0.75"/>
<line x1="385.40" y1="163.40" x2="419.80" y2="187.00" stroke="#111" stroke-width="0.75"/>
<line x1="385.40" y1="173.40" x2="419.80" y2="188.50" stroke="#111" stroke-width="0.75"/>
<line x1="385.40" y1="179.60" x2="419.80" y2="186.00" stroke="#111" stroke-width="0.75"/>
<line x1="385.40" y1="181.30" x2="419.80" y2="189.00" stroke="#111" stroke-width="0.75"/>
<circle cx="385.40" cy="138.00" r="1.95" fill="#fff" stroke="#111" stroke-width="0.8"/>
<circle cx="385.40" cy="144.30" r="1.95" fill="#fff" stroke="#111" stroke-width="0.8"/>
<circle cx="385.40" cy="156.00" r="1.95" fill="#fff" stroke="#111" stroke-width="0.8"/>
<circle cx="385.40" cy="160.20" r="1.95" fill="#fff" stroke="#111" stroke-width="0.8"/>
<circle cx="385.40" cy="163.40" r="1.95" fill="#fff" stroke="#111" stroke-width="0.8"/>
<circle cx="385.40" cy="173.40" r="1.95" fill="#fff" stroke="#111" stroke-width="0.8"/>
<circle cx="385.40" cy="179.60" r="1.95" fill="#fff" stroke="#111" stroke-width="0.8"/>
<circle cx="385.40" cy="181.30" r="1.95" fill="#fff" stroke="#111" stroke-width="0.8"/>
<rect x="417.80" y="169.60" width="4.0" height="4.0" fill="#fff" stroke="#222" stroke-width="0.8"/>
<rect x="417.80" y="175.80" width="4.0" height="4.0" fill="#fff" stroke="#222" stroke-width="0.8"/>
<rect x="417.80" y="178.80" width="4.0" height="4.0" fill="#fff" stroke="#222" stroke-width="0.8"/>
<rect x="417.80" y="182.00" width="4.0" height="4.0" fill="#fff" stroke="#222" stroke-width="0.8"/>
<rect x="417.80" y="185.00" width="4.0" height="4.0" fill="#fff" stroke="#222" stroke-width="0.8"/>
<rect x="417.80" y="186.50" width="4.0" height="4.0" fill="#fff" stroke="#222" stroke-width="0.8"/>
<rect x="417.80" y="184.00" width="4.0" height="4.0" fill="#fff" stroke="#222" stroke-width="0.8"/>
<rect x="417.80" y="187.00" width="4.0" height="4.0" fill="#fff" stroke="#222" stroke-width="0.8"/>
<text x="402.20" y="111.20" font-size="7.8" fill="#222" stroke="#222" stroke-width="0.12" text-anchor="middle">hM3Dq-DREADD</text>
<line x1="386.20" y1="133.50" x2="417.80" y2="133.50" stroke="#222" stroke-width="0.9"/>
<text x="396.80" y="131.60" font-size="7.6" fill="#222" stroke="#222" stroke-width="0.12"><tspan dy="2.58" font-weight="bold">***</tspan><tspan dy="-2.58"> </tspan><tspan font-style="italic">p</tspan><tspan>=0.0007</tspan></text>
<text x="386.20" y="199.40" font-size="8.0" fill="#222" stroke="#222" stroke-width="0.12" text-anchor="middle">NS</text>
<text x="419.80" y="199.40" font-size="8.0" fill="#222" stroke="#222" stroke-width="0.12" text-anchor="middle">CNO</text>
<text x="0" y="0" font-size="7.8" fill="#222" stroke="#222" stroke-width="0.12" text-anchor="middle" transform="translate(350.11,153.50) rotate(-90)">Immobility time(s)</text>
<line x1="478.50" y1="119.90" x2="478.50" y2="187.00" stroke="#222" stroke-width="0.9"/>
<line x1="476.70" y1="187.50" x2="478.00" y2="187.50" stroke="#222" stroke-width="0.9"/>
<text x="475.30" y="189.81" font-size="7.8" fill="#222" stroke="#222" stroke-width="0.12" text-anchor="end">0</text>
<line x1="476.70" y1="164.50" x2="478.00" y2="164.50" stroke="#222" stroke-width="0.9"/>
<text x="475.30" y="167.44" font-size="7.8" fill="#222" stroke="#222" stroke-width="0.12" text-anchor="end">200</text>
<line x1="476.70" y1="142.50" x2="478.00" y2="142.50" stroke="#222" stroke-width="0.9"/>
<text x="475.30" y="145.07" font-size="7.8" fill="#222" stroke="#222" stroke-width="0.12" text-anchor="end">400</text>
<line x1="476.70" y1="119.50" x2="478.00" y2="119.50" stroke="#222" stroke-width="0.9"/>
<text x="475.30" y="122.71" font-size="7.8" fill="#222" stroke="#222" stroke-width="0.12" text-anchor="end">600</text>
<line x1="478.00" y1="187.50" x2="541.00" y2="187.50" stroke="#222" stroke-width="0.9"/>
<rect x="484.50" y="155.50" width="22.00" height="32.00" fill="#f1e6fa" stroke="#8a8a8a" stroke-width="0.8"/>
<rect x="517.50" y="150.50" width="22.00" height="37.00" fill="#c8c8fa" stroke="#333" stroke-width="0.7"/>
<line x1="495.50" y1="187.00" x2="495.50" y2="188.60" stroke="#222" stroke-width="0.8"/>
<line x1="528.50" y1="187.00" x2="528.50" y2="188.60" stroke="#222" stroke-width="0.8"/>
<line x1="495.20" y1="141.80" x2="528.30" y2="148.50" stroke="#111" stroke-width="0.75"/>
<line x1="495.20" y1="149.20" x2="528.30" y2="141.80" stroke="#111" stroke-width="0.75"/>
<line x1="495.20" y1="152.20" x2="528.30" y2="143.50" stroke="#111" stroke-width="0.75"/>
<line x1="495.20" y1="154.50" x2="528.30" y2="154.50" stroke="#111" stroke-width="0.75"/>
<line x1="495.20" y1="157.20" x2="528.30" y2="146.00" stroke="#111" stroke-width="0.75"/>
<line x1="495.20" y1="160.40" x2="528.30" y2="165.40" stroke="#111" stroke-width="0.75"/>
<line x1="495.20" y1="167.10" x2="528.30" y2="152.20" stroke="#111" stroke-width="0.75"/>
<circle cx="495.20" cy="141.80" r="1.95" fill="#fff" stroke="#111" stroke-width="0.8"/>
<circle cx="495.20" cy="149.20" r="1.95" fill="#fff" stroke="#111" stroke-width="0.8"/>
<circle cx="495.20" cy="152.20" r="1.95" fill="#fff" stroke="#111" stroke-width="0.8"/>
<circle cx="495.20" cy="154.70" r="1.95" fill="#fff" stroke="#111" stroke-width="0.8"/>
<circle cx="495.20" cy="157.20" r="1.95" fill="#fff" stroke="#111" stroke-width="0.8"/>
<circle cx="495.20" cy="160.40" r="1.95" fill="#fff" stroke="#111" stroke-width="0.8"/>
<circle cx="495.20" cy="167.10" r="1.95" fill="#fff" stroke="#111" stroke-width="0.8"/>
<rect x="526.30" y="146.50" width="4.0" height="4.0" fill="#fff" stroke="#222" stroke-width="0.8"/>
<rect x="526.30" y="139.80" width="4.0" height="4.0" fill="#fff" stroke="#222" stroke-width="0.8"/>
<rect x="526.30" y="141.50" width="4.0" height="4.0" fill="#fff" stroke="#222" stroke-width="0.8"/>
<rect x="526.30" y="152.70" width="4.0" height="4.0" fill="#fff" stroke="#222" stroke-width="0.8"/>
<rect x="526.30" y="144.00" width="4.0" height="4.0" fill="#fff" stroke="#222" stroke-width="0.8"/>
<rect x="526.30" y="163.40" width="4.0" height="4.0" fill="#fff" stroke="#222" stroke-width="0.8"/>
<rect x="526.30" y="150.20" width="4.0" height="4.0" fill="#fff" stroke="#222" stroke-width="0.8"/>
<text x="510.60" y="111.20" font-size="7.8" fill="#222" stroke="#222" stroke-width="0.12" text-anchor="middle">hM4Di-DREADD</text>
<line x1="495.60" y1="135.50" x2="528.20" y2="135.50" stroke="#222" stroke-width="0.9"/>
<text x="496.40" y="132.60" font-size="7.6" fill="#222" stroke="#222" stroke-width="0.12"><tspan font-style="italic">p</tspan><tspan>=0.1801</tspan></text>
<text x="496.00" y="199.40" font-size="8.0" fill="#222" stroke="#222" stroke-width="0.12" text-anchor="middle">NS</text>
<text x="529.50" y="199.40" font-size="8.0" fill="#222" stroke="#222" stroke-width="0.12" text-anchor="middle">CNO</text>
<text x="0" y="0" font-size="8.2" fill="#222" stroke="#222" stroke-width="0.12" text-anchor="middle" transform="translate(457.15,153.50) rotate(-90)">Immobility time (s)</text>
<line x1="583.50" y1="119.90" x2="583.50" y2="187.00" stroke="#222" stroke-width="0.9"/>
<line x1="582.20" y1="187.50" x2="583.50" y2="187.50" stroke="#222" stroke-width="0.9"/>
<text x="580.80" y="189.81" font-size="7.8" fill="#222" stroke="#222" stroke-width="0.12" text-anchor="end">0</text>
<line x1="582.20" y1="164.50" x2="583.50" y2="164.50" stroke="#222" stroke-width="0.9"/>
<text x="580.80" y="167.44" font-size="7.8" fill="#222" stroke="#222" stroke-width="0.12" text-anchor="end">200</text>
<line x1="582.20" y1="142.50" x2="583.50" y2="142.50" stroke="#222" stroke-width="0.9"/>
<text x="580.80" y="145.07" font-size="7.8" fill="#222" stroke="#222" stroke-width="0.12" text-anchor="end">400</text>
<line x1="582.20" y1="119.50" x2="583.50" y2="119.50" stroke="#222" stroke-width="0.9"/>
<text x="580.80" y="122.71" font-size="7.8" fill="#222" stroke="#222" stroke-width="0.12" text-anchor="end">600</text>
<line x1="583.50" y1="187.50" x2="651.00" y2="187.50" stroke="#222" stroke-width="0.9"/>
<rect x="588.50" y="154.50" width="22.00" height="33.00" fill="#f1e6fa" stroke="#8a8a8a" stroke-width="0.8"/>
<rect x="622.50" y="153.50" width="22.00" height="34.00" fill="#c8c8fa" stroke="#333" stroke-width="0.7"/>
<line x1="599.50" y1="187.00" x2="599.50" y2="188.60" stroke="#222" stroke-width="0.8"/>
<line x1="633.50" y1="187.00" x2="633.50" y2="188.60" stroke="#222" stroke-width="0.8"/>
<line x1="599.70" y1="141.00" x2="633.30" y2="147.70" stroke="#111" stroke-width="0.75"/>
<line x1="599.70" y1="146.00" x2="633.30" y2="139.30" stroke="#111" stroke-width="0.75"/>
<line x1="599.70" y1="148.50" x2="633.30" y2="143.00" stroke="#111" stroke-width="0.75"/>
<line x1="599.70" y1="155.40" x2="633.30" y2="152.20" stroke="#111" stroke-width="0.75"/>
<line x1="599.70" y1="170.10" x2="633.30" y2="155.40" stroke="#111" stroke-width="0.75"/>
<line x1="599.70" y1="171.40" x2="633.30" y2="172.90" stroke="#111" stroke-width="0.75"/>
<line x1="599.70" y1="155.40" x2="633.30" y2="157.20" stroke="#111" stroke-width="0.75"/>
<circle cx="599.70" cy="141.00" r="1.95" fill="#fff" stroke="#111" stroke-width="0.8"/>
<circle cx="599.70" cy="146.00" r="1.95" fill="#fff" stroke="#111" stroke-width="0.8"/>
<circle cx="599.70" cy="148.50" r="1.95" fill="#fff" stroke="#111" stroke-width="0.8"/>
<circle cx="599.70" cy="155.40" r="1.95" fill="#fff" stroke="#111" stroke-width="0.8"/>
<circle cx="599.70" cy="170.10" r="1.95" fill="#fff" stroke="#111" stroke-width="0.8"/>
<circle cx="599.70" cy="171.40" r="1.95" fill="#fff" stroke="#111" stroke-width="0.8"/>
<circle cx="599.70" cy="155.40" r="1.95" fill="#fff" stroke="#111" stroke-width="0.8"/>
<rect x="631.30" y="145.70" width="4.0" height="4.0" fill="#fff" stroke="#222" stroke-width="0.8"/>
<rect x="631.30" y="137.30" width="4.0" height="4.0" fill="#fff" stroke="#222" stroke-width="0.8"/>
<rect x="631.30" y="141.00" width="4.0" height="4.0" fill="#fff" stroke="#222" stroke-width="0.8"/>
<rect x="631.30" y="150.20" width="4.0" height="4.0" fill="#fff" stroke="#222" stroke-width="0.8"/>
<rect x="631.30" y="153.40" width="4.0" height="4.0" fill="#fff" stroke="#222" stroke-width="0.8"/>
<rect x="631.30" y="170.90" width="4.0" height="4.0" fill="#fff" stroke="#222" stroke-width="0.8"/>
<rect x="631.30" y="155.20" width="4.0" height="4.0" fill="#fff" stroke="#222" stroke-width="0.8"/>
<text x="617.60" y="111.20" font-size="7.8" fill="#222" stroke="#222" stroke-width="0.12" text-anchor="middle">mCherry</text>
<line x1="600.30" y1="133.50" x2="632.80" y2="133.50" stroke="#222" stroke-width="0.9"/>
<text x="601.00" y="130.90" font-size="7.6" fill="#222" stroke="#222" stroke-width="0.12"><tspan font-style="italic">p</tspan><tspan>=0.6439</tspan></text>
<text x="599.50" y="199.40" font-size="8.0" fill="#222" stroke="#222" stroke-width="0.12" text-anchor="middle">NS</text>
<text x="635.20" y="199.40" font-size="8.0" fill="#222" stroke="#222" stroke-width="0.12" text-anchor="middle">CNO</text>
<text x="0" y="0" font-size="8.2" fill="#222" stroke="#222" stroke-width="0.12" text-anchor="middle" transform="translate(562.45,153.50) rotate(-90)">Immobility time (s)</text>
<text x="2.50" y="225.50" font-size="11.0" fill="#222" stroke="#222" stroke-width="0.12">e</text>
<rect x="13.50" y="234.50" width="116.00" height="12.00" fill="#ecf9e6" stroke="#96d890" stroke-width="1"/>
<text x="16.00" y="244.40" font-size="9.0" fill="#2c6a30" stroke="#2c6a30" stroke-width="0.12">pAOV-Camk2a-ChR2/eYFP</text>
<path d="M27.00,277.00 C28.00,273.00 34.00,272.50 41.40,274.70 C46.00,271.00 56.00,267.00 64.40,265.50 C70.00,264.00 76.00,263.50 80.00,264.50 C82.00,265.00 84.00,266.00 86.00,265.60 C88.00,263.00 92.00,261.50 95.00,262.50 C101.00,264.00 106.00,268.00 108.50,275.00 C111.00,281.00 111.50,288.00 108.50,293.00 C106.00,295.00 103.00,294.00 100.00,292.50 M108.00,298.50 C102.00,300.00 96.00,300.50 90.00,300.50 C84.00,300.50 80.00,299.00 77.00,297.00 C76.00,295.00 76.50,293.00 75.50,294.00 C74.00,296.00 73.00,299.00 71.00,300.30 C66.00,300.00 62.00,298.50 57.90,297.00 C53.00,295.50 48.00,294.00 44.00,292.50 C38.00,291.00 32.00,289.00 29.00,285.00 C27.00,282.00 26.60,279.00 27.00,277.00" stroke="#c8a030" stroke-width="0.85" fill="none"/>
<path d="M41.40,274.70 C40.00,279.00 41.00,287.00 44.00,292.50" stroke="#c8a030" stroke-width="0.85" fill="none"/>
<path d="M52.60,279.30 C58.00,275.00 66.00,271.00 73.60,270.10 C76.00,269.80 77.80,271.00 76.50,272.60" stroke="#b8961e" stroke-width="2.72" fill="none"/>
<path d="M73.00,273.50 C75.00,273.50 77.00,274.50 78.00,274.00" stroke="#c8a030" stroke-width="0.68" fill="none"/>
<path d="M86.00,265.60 C84.00,268.00 85.50,272.00 87.50,274.00" stroke="#c8a030" stroke-width="0.68" fill="none"/>
<path d="M88.20,270.00 Q90.00,266.50 92.50,263.30" stroke="#c8a030" stroke-width="0.6375" fill="none"/>
<path d="M89.50,273.50 Q93.50,268.50 98.50,265.00" stroke="#c8a030" stroke-width="0.6375" fill="none"/>
<path d="M91.00,277.00 Q97.00,272.00 103.50,268.60" stroke="#c8a030" stroke-width="0.6375" fill="none"/>
<path d="M92.50,281.00 Q99.00,278.00 107.60,275.50" stroke="#c8a030" stroke-width="0.6375" fill="none"/>
<path d="M93.50,284.50 Q101.00,284.00 110.20,283.20" stroke="#c8a030" stroke-width="0.6375" fill="none"/>
<path d="M95.00,287.60 Q102.00,289.00 109.30,290.50" stroke="#c8a030" stroke-width="0.6375" fill="none"/>
<path d="M97.00,290.00 Q101.00,292.00 104.50,294.00" stroke="#c8a030" stroke-width="0.6375" fill="none"/>
<path d="M95.50,270.20 L96.50,264.20" stroke="#c8a030" stroke-width="0.51" fill="none"/>
<path d="M100.50,270.80 L102.50,266.50" stroke="#c8a030" stroke-width="0.51" fill="none"/>
<path d="M100.00,276.00 L105.50,271.00" stroke="#c8a030" stroke-width="0.51" fill="none"/>
<path d="M103.00,279.20 L109.30,278.80" stroke="#c8a030" stroke-width="0.51" fill="none"/>
<path d="M104.00,284.00 L110.80,286.50" stroke="#c8a030" stroke-width="0.51" fill="none"/>
<path d="M103.50,289.50 L107.50,292.80" stroke="#c8a030" stroke-width="0.51" fill="none"/>
<path d="M87.50,276.00 C84.00,278.00 84.50,283.00 88.00,287.00 C91.00,290.00 95.00,291.00 99.00,291.50" stroke="#8a6a20" stroke-width="1.275" fill="none"/>
<path d="M100.00,292.50 C103.00,294.00 106.00,296.00 108.00,298.50" stroke="#c8a030" stroke-width="0.85" fill="none"/>
<line x1="44.90" y1="251.70" x2="71.40" y2="300.40" stroke="#333" stroke-width="0.6"/>
<line x1="46.66" y1="250.74" x2="43.14" y2="252.66" stroke="#333" stroke-width="0.7"/>
<polygon points="51.52,260.09 59.47,274.70 56.30,276.42 48.35,261.81" fill="#e0e0e0" stroke="#444" stroke-width="0.5"/>
<line x1="51.91" y1="260.82" x2="49.35" y2="262.04" stroke="#333" stroke-width="0.7"/>
<line x1="52.68" y1="262.24" x2="50.12" y2="263.46" stroke="#333" stroke-width="0.7"/>
<line x1="53.45" y1="263.65" x2="50.89" y2="264.87" stroke="#333" stroke-width="0.7"/>
<line x1="54.22" y1="265.06" x2="51.66" y2="266.28" stroke="#333" stroke-width="0.7"/>
<line x1="54.99" y1="266.47" x2="52.43" y2="267.69" stroke="#333" stroke-width="0.7"/>
<line x1="55.76" y1="267.88" x2="53.19" y2="269.11" stroke="#333" stroke-width="0.7"/>
<line x1="56.52" y1="269.30" x2="53.96" y2="270.52" stroke="#333" stroke-width="0.7"/>
<line x1="57.29" y1="270.71" x2="54.73" y2="271.93" stroke="#333" stroke-width="0.7"/>
<line x1="58.06" y1="272.12" x2="55.50" y2="273.34" stroke="#333" stroke-width="0.7"/>
<line x1="58.83" y1="273.53" x2="56.27" y2="274.75" stroke="#333" stroke-width="0.7"/>
<polygon points="59.47,274.70 66.89,288.34 63.72,290.06 56.30,276.42" fill="#2e9a3e" stroke="#234" stroke-width="0.5"/>
<rect x="70.50" y="254.50" width="2.00" height="12.00" fill="#fff" stroke="#4a7ac8" stroke-width="0.8"/>
<line x1="71.40" y1="266.70" x2="71.40" y2="297.50" stroke="#c2c2c2" stroke-width="1.9"/>
<line x1="71.40" y1="296.50" x2="71.40" y2="299.00" stroke="#aee0f0" stroke-width="1.9"/>
<circle cx="71.40" cy="300.30" r="1.5" fill="#3aa048" stroke="none" stroke-width="0"/>
<text x="44.30" y="314.00" font-size="8.6" fill="#222" stroke="#222" stroke-width="0.12">C57BL/6J mice</text>
<line x1="109.00" y1="282.50" x2="162.60" y2="282.50" stroke="#666" stroke-width="0.9" stroke-dasharray="2.6,1.8"/>
<text x="109.00" y="280.40" font-size="8.6" fill="#222" stroke="#222" stroke-width="0.12">4weeks</text>
<text x="146.00" y="280.40" font-size="8.6" fill="#222" stroke="#222" stroke-width="0.12">6 d</text>
<line x1="141.20" y1="279.00" x2="141.20" y2="287.00" stroke="#111" stroke-width="1.6"/>
<text x="132.40" y="298.80" font-size="8.6" fill="#ee62a6" stroke="#ee62a6" stroke-width="0.12">RRS</text>
<path d="M183.4,262.9 L162.6,262.9 L162.6,304.3 L327.3,304.3" stroke="#222" stroke-width="0.9" fill="none"/>
<line x1="189.00" y1="300.20" x2="189.00" y2="308.90" stroke="#111" stroke-width="1.6"/>
<line x1="222.00" y1="300.20" x2="222.00" y2="308.90" stroke="#111" stroke-width="1.6"/>
<line x1="256.00" y1="300.20" x2="256.00" y2="308.90" stroke="#111" stroke-width="1.6"/>
<line x1="291.70" y1="300.20" x2="291.70" y2="308.90" stroke="#111" stroke-width="1.6"/>
<line x1="327.20" y1="300.20" x2="327.20" y2="308.90" stroke="#111" stroke-width="1.6"/>
<text x="172.80" y="299.50" font-size="8.3" fill="#222" stroke="#222" stroke-width="0.12">day1</text>
<text x="205.60" y="299.50" font-size="8.3" fill="#222" stroke="#222" stroke-width="0.12">day2</text>
<text x="239.50" y="299.50" font-size="8.3" fill="#222" stroke="#222" stroke-width="0.12">day3</text>
<text x="275.70" y="299.50" font-size="8.3" fill="#222" stroke="#222" stroke-width="0.12">day4</text>
<text x="310.70" y="299.50" font-size="8.3" fill="#222" stroke="#222" stroke-width="0.12">day5</text>
<text x="182.20" y="289.40" font-size="8.4" stroke-width="0.12"><tspan fill="#6e6ef4" stroke="#6e6ef4">on</tspan><tspan fill="#222" stroke="#222">/</tspan><tspan fill="#ee62a6" stroke="#ee62a6">off</tspan></text>
<text x="215.40" y="289.40" font-size="8.4" stroke-width="0.12"><tspan fill="#6e6ef4" stroke="#6e6ef4">on</tspan><tspan fill="#222" stroke="#222">/</tspan><tspan fill="#ee62a6" stroke="#ee62a6">off</tspan></text>
<text x="248.90" y="289.40" font-size="8.4" stroke-width="0.12"><tspan fill="#ee62a6" stroke="#ee62a6">off</tspan><tspan fill="#222" stroke="#222">/</tspan><tspan fill="#6e6ef4" stroke="#6e6ef4">on</tspan></text>
<text x="285.50" y="289.40" font-size="8.4" stroke-width="0.12"><tspan fill="#6e6ef4" stroke="#6e6ef4">on</tspan><tspan fill="#222" stroke="#222">/</tspan><tspan fill="#ee62a6" stroke="#ee62a6">off</tspan></text>
<text x="320.90" y="289.40" font-size="8.4" stroke-width="0.12"><tspan fill="#ee62a6" stroke="#ee62a6">off</tspan><tspan fill="#222" stroke="#222">/</tspan><tspan fill="#6e6ef4" stroke="#6e6ef4">on</tspan></text>
<text x="181.00" y="319.40" font-size="8.3" fill="#222" stroke="#222" stroke-width="0.12">EPM</text>
<text x="216.00" y="319.40" font-size="8.3" fill="#222" stroke="#222" stroke-width="0.12">TS</text>
<text x="250.40" y="319.40" font-size="8.3" fill="#222" stroke="#222" stroke-width="0.12">TS</text>
<text x="282.60" y="319.40" font-size="8.3" fill="#222" stroke="#222" stroke-width="0.12">RTPP</text>
<text x="316.50" y="319.40" font-size="8.3" fill="#222" stroke="#222" stroke-width="0.12">RTPP</text>
<path d="M220.8,238.2 C214,236.5 205,237.5 196.5,242.5 C190.5,246.5 187.2,252.5 187.1,259.3 C187,266 190,271 195,274.5 C201,278 210,279.5 221.5,279.8 L221.5,238.4" stroke="#333" stroke-width="0.6" fill="#fff"/>
<path d="M221,243.6 C212,242.8 203.5,245.5 198.5,250.5 C195,254.5 194.8,261 197,266.5" stroke="#444" stroke-width="0.45" fill="none"/>
<path d="M221,246.8 C213,246.3 206.5,248.3 202.3,252.3 C199.3,255.8 199.2,261 200.6,265" stroke="#444" stroke-width="0.45" fill="none"/>
<path d="M221,249.6 C215.5,249.2 211,250.6 207.8,253.2" stroke="#444" stroke-width="0.45" fill="none"/>
<path d="M214,244.8 C216.5,246 219,246.3 221,246" stroke="#555" stroke-width="0.4" fill="none"/>
<path d="M203.6,255.5 L205.6,249.6 L207.4,250.4 L205.5,256.2 Z" stroke="#2a5a8a" stroke-width="0.4" fill="#3a78aa"/>
<path d="M197.5,270.5 C200.5,272.5 204.5,271.5 207,271 C210,271 212.5,273.5 214.5,276.5" stroke="#444" stroke-width="0.45" fill="none"/>
<path d="M201,262 C203,266 205.5,268.5 208.5,269.5" stroke="#555" stroke-width="0.4" fill="none"/>
<polygon points="222.5,274 245,269 245,279" fill="#eeeefb" stroke="none"/>
<circle cx="218.80" cy="274.20" r="2.2" fill="#3aaa48" stroke="none" stroke-width="0"/>
<line x1="221.00" y1="274.40" x2="236.80" y2="229.50" stroke="#333" stroke-width="0.6"/>
<line x1="222.80" y1="274.40" x2="238.20" y2="235.60" stroke="#333" stroke-width="0.6"/>
<line x1="236.80" y1="229.50" x2="261.40" y2="229.50" stroke="#333" stroke-width="0.7"/>
<polygon points="261.4,223.6 261.4,234.6 275,229.1" fill="#fff" stroke="#333" stroke-width="0.7"/>
<line x1="275.00" y1="229.50" x2="283.00" y2="229.50" stroke="#333" stroke-width="0.7"/>
<line x1="259.50" y1="232.50" x2="259.50" y2="238.90" stroke="#333" stroke-width="0.6"/>
<line x1="256.30" y1="238.50" x2="263.00" y2="238.50" stroke="#333" stroke-width="0.7"/>
<line x1="258.00" y1="241.50" x2="261.40" y2="241.50" stroke="#666" stroke-width="0.5"/>
<text x="237.00" y="251.40" font-size="8.8" fill="#222" stroke="#222" stroke-width="0.12">Whole cell recording</text>
<text x="245.50" y="276.10" font-size="8.8" fill="#222" stroke="#222" stroke-width="0.12">473nm, 20Hz, 20ms</text>
<text x="345.70" y="225.60" font-size="11.0" fill="#222" stroke="#222" stroke-width="0.12">f</text>
<rect x="365.50" y="230.50" width="58.00" height="10.00" fill="#fff" stroke="#444" stroke-width="0.9"/>
<rect x="426.50" y="230.50" width="58.00" height="10.00" fill="#dcdff8" stroke="#444" stroke-width="0.9"/>
<text x="394.50" y="237.80" font-size="7.6" fill="#222" stroke="#222" stroke-width="0.12" text-anchor="middle">light off</text>
<text x="455.30" y="237.80" font-size="7.6" fill="#222" stroke="#222" stroke-width="0.12" text-anchor="middle">light on</text>
<rect x="354.50" y="245.50" width="10.00" height="31.00" fill="#fff" stroke="#444" stroke-width="0.8"/>
<rect x="353.50" y="282.50" width="11.00" height="31.00" fill="#fff" stroke="#444" stroke-width="0.8"/>
<text x="0" y="0" font-size="7.6" fill="#222" stroke="#222" stroke-width="0.12" text-anchor="middle" transform="translate(362.04,261.00) rotate(-90)">eYFP</text>
<text x="0" y="0" font-size="7.6" fill="#222" stroke="#222" stroke-width="0.12" text-anchor="middle" transform="translate(361.94,298.10) rotate(-90)">ChR2</text>
<rect x="426.60" y="245.00" width="57.60" height="31.80" fill="#dcdff8" stroke="none" stroke-width="0.8"/>
<rect x="426.20" y="281.50" width="57.80" height="33.30" fill="#dcdff8" stroke="none" stroke-width="0.8"/>
<path d="M368.20,274.30 L368.60,275.30 Q369.15,274.70 369.80,273.10 L370.10,248.42 L370.35,275.50 L370.75,275.30 Q371.93,274.70 373.20,273.10 L373.50,248.36 L373.75,275.50 L374.15,275.30 Q375.62,274.70 377.20,273.10 L377.50,247.81 L377.75,275.50 L378.15,275.30 Q380.93,274.70 383.80,273.10 L384.10,247.87 L384.35,275.50 L384.75,275.30 Q385.88,274.70 387.10,273.10 L387.40,248.02 L387.65,275.50 L388.05,275.30 Q391.02,274.70 394.10,273.10 L394.40,247.57 L394.65,275.50 L395.05,275.30 Q396.12,274.70 397.30,273.10 L397.60,248.15 L397.85,275.50 L398.25,275.30 Q400.93,274.70 403.70,273.10 L404.00,247.52 L404.25,275.50 L404.65,275.30 Q405.82,274.70 407.10,273.10 L407.40,248.00 L407.65,275.50 L408.05,275.30 Q409.48,274.70 411.00,273.10 L411.30,247.77 L411.55,275.50 L411.95,275.30 Q413.27,274.70 414.70,273.10 L415.00,248.38 L415.25,275.50 L415.65,275.30 Q418.93,274.70 422.30,273.10 L422.60,248.40 L422.85,275.50 Q424.62,274.30 426.40,273.50" fill="none" stroke="#222" stroke-width="0.6" stroke-linejoin="round"/>
<path d="M426.40,274.30 L426.80,275.30 Q427.45,274.70 428.20,273.10 L428.50,248.01 L428.75,275.50 L429.15,275.30 Q431.12,274.70 433.20,273.10 L433.50,249.14 L433.75,275.50 L434.15,275.30 Q435.68,274.70 437.30,273.10 L437.60,248.43 L437.85,275.50 L438.25,275.30 Q440.33,274.70 442.50,273.10 L442.80,248.71 L443.05,275.50 L443.45,275.30 Q445.88,274.70 448.40,273.10 L448.70,248.56 L448.95,275.50 L449.35,275.30 Q451.23,274.70 453.20,273.10 L453.50,248.94 L453.75,275.50 L454.15,275.30 Q455.88,274.70 457.70,273.10 L458.00,248.57 L458.25,275.50 L458.65,275.30 Q459.88,274.70 461.20,273.10 L461.50,248.56 L461.75,275.50 L462.15,275.30 Q464.27,274.70 466.50,273.10 L466.80,248.72 L467.05,275.50 L467.45,275.30 Q470.12,274.70 472.90,273.10 L473.20,248.13 L473.45,275.50 L473.85,275.30 Q477.98,274.70 482.20,273.10 L482.50,249.00 L482.75,275.50 Q483.48,274.30 484.20,273.50" fill="none" stroke="#2a2a5a" stroke-width="0.6" stroke-linejoin="round"/>
<path d="M369.20,312.50 L369.60,313.50 Q370.10,312.90 370.70,311.30 L371.00,283.57 L371.25,313.70 L371.65,313.50 Q374.23,312.90 376.90,311.30 L377.20,283.43 L377.45,313.70 L377.85,313.50 Q378.07,312.90 378.40,311.30 L378.70,283.61 L378.95,313.70 L379.35,313.50 Q379.52,312.90 379.80,311.30 L380.10,283.94 L380.35,313.70 L380.75,313.50 Q382.27,312.90 383.90,311.30 L384.20,283.48 L384.45,313.70 L384.85,313.50 Q387.42,312.90 390.10,311.30 L390.40,283.54 L390.65,313.70 L391.05,313.50 Q392.17,312.90 393.40,311.30 L393.70,283.00 L393.95,313.70 L394.35,313.50 Q394.32,312.90 394.40,311.30 L394.70,283.80 L394.95,313.70 L395.35,313.50 Q396.52,312.90 397.80,311.30 L398.10,283.90 L398.35,313.70 L398.75,313.50 Q400.93,312.90 403.20,311.30 L403.50,283.30 L403.75,313.70 L404.15,313.50 Q406.52,312.90 409.00,311.30 L409.30,283.84 L409.55,313.70 L409.95,313.50 Q412.12,312.90 414.40,311.30 L414.70,283.74 L414.95,313.70 L415.35,313.50 Q417.27,312.90 419.30,311.30 L419.60,284.01 L419.85,313.70 L420.25,313.50 Q422.62,312.90 425.10,311.30 L425.40,283.02 L425.65,313.70 Q426.02,312.50 426.40,311.70" fill="none" stroke="#222" stroke-width="0.6" stroke-linejoin="round"/>
<path d="M426.40,312.00 L426.80,313.00 Q426.80,312.40 426.90,310.80 L427.20,284.59 L427.45,313.20 L427.85,313.00 Q428.23,312.40 428.71,310.80 L429.01,284.00 L429.26,313.20 L429.66,313.00 Q430.18,312.40 430.80,310.80 L431.10,283.72 L431.35,313.20 L431.75,313.00 Q432.20,312.40 432.74,310.80 L433.04,283.62 L433.29,313.20 L433.69,313.00 Q434.23,312.40 434.88,310.80 L435.18,284.22 L435.43,313.20 L435.83,313.00 Q436.39,312.40 437.04,310.80 L437.34,284.07 L437.59,313.20 L437.99,313.00 Q438.30,312.40 438.70,310.80 L439.00,284.00 L439.25,313.20 L439.65,313.00 Q439.93,312.40 440.31,310.80 L440.61,283.63 L440.86,313.20 L441.26,313.00 Q441.92,312.40 442.67,310.80 L442.97,283.53 L443.22,313.20 L443.62,313.00 Q444.01,312.40 444.50,310.80 L444.80,284.14 L445.05,313.20 L445.45,313.00 Q445.83,312.40 446.31,310.80 L446.61,283.71 L446.86,313.20 L447.26,313.00 Q447.99,312.40 448.81,310.80 L449.11,283.77 L449.36,313.20 L449.76,313.00 Q450.25,312.40 450.83,310.80 L451.13,284.16 L451.38,313.20 L451.78,313.00 Q452.43,312.40 453.18,310.80 L453.48,284.65 L453.73,313.20 L454.13,313.00 Q454.62,312.40 455.21,310.80 L455.51,283.54 L455.76,313.20 L456.16,313.00 Q456.73,312.40 457.39,310.80 L457.69,284.60 L457.94,313.20 L458.34,313.00 Q458.68,312.40 459.12,310.80 L459.42,284.41 L459.67,313.20 L460.07,313.00 Q460.63,312.40 461.30,310.80 L461.60,284.20 L461.85,313.20 L462.25,313.00 Q462.91,312.40 463.68,310.80 L463.98,283.81 L464.23,313.20 L464.63,313.00 Q465.14,312.40 465.75,310.80 L466.05,283.78 L466.30,313.20 L466.70,313.00 Q467.31,312.40 468.01,310.80 L468.31,283.95 L468.56,313.20 L468.96,313.00 Q469.54,312.40 470.22,310.80 L470.52,283.98 L470.77,313.20 L471.17,313.00 Q471.47,312.40 471.88,310.80 L472.18,283.62 L472.43,313.20 L472.83,313.00 Q473.44,312.40 474.16,310.80 L474.46,284.05 L474.71,313.20 L475.11,313.00 Q475.65,312.40 476.29,310.80 L476.59,284.27 L476.84,313.20 L477.24,313.00 Q477.65,312.40 478.16,310.80 L478.46,283.52 L478.71,313.20 L479.11,313.00 Q479.40,312.40 479.79,310.80 L480.09,284.20 L480.34,313.20 L480.74,313.00 Q481.40,312.40 482.17,310.80 L482.47,284.41 L482.72,313.20 Q483.36,312.00 484.00,311.20" fill="none" stroke="#2a2a66" stroke-width="0.5" stroke-linejoin="round"/>
<path d="M490.6,312.3 L490.6,325.1 L506.1,325.1" stroke="#222" stroke-width="0.9" fill="none"/>
<text x="469.30" y="324.80" font-size="7.3" fill="#222" stroke="#222" stroke-width="0.12">25mV</text>
<text x="494.80" y="331.80" font-size="7.3" fill="#222" stroke="#222" stroke-width="0.12">1s</text>
<line x1="528.50" y1="238.10" x2="528.50" y2="301.00" stroke="#4a4a4a" stroke-width="0.9"/>
<line x1="526.30" y1="301.50" x2="528.30" y2="301.50" stroke="#4a4a4a" stroke-width="0.9"/>
<text x="524.30" y="303.27" font-size="6.3" fill="#222" stroke="#222" stroke-width="0.12" text-anchor="end">0</text>
<line x1="526.30" y1="280.50" x2="528.30" y2="280.50" stroke="#4a4a4a" stroke-width="0.9"/>
<text x="524.30" y="282.30" font-size="6.3" fill="#222" stroke="#222" stroke-width="0.12" text-anchor="end">5</text>
<line x1="526.30" y1="259.50" x2="528.30" y2="259.50" stroke="#4a4a4a" stroke-width="0.9"/>
<text x="524.30" y="261.33" font-size="6.3" fill="#222" stroke="#222" stroke-width="0.12" text-anchor="end">10</text>
<line x1="526.30" y1="238.50" x2="528.30" y2="238.50" stroke="#4a4a4a" stroke-width="0.9"/>
<text x="524.30" y="240.37" font-size="6.3" fill="#222" stroke="#222" stroke-width="0.12" text-anchor="end">15</text>
<line x1="528.30" y1="301.50" x2="581.00" y2="301.50" stroke="#4a4a4a" stroke-width="0.9"/>
<text x="558.20" y="232.40" font-size="8.2" fill="#222" stroke="#222" stroke-width="0.12" text-anchor="middle">eYFP</text>
<line x1="543.10" y1="265.90" x2="570.70" y2="265.90" stroke="#999" stroke-width="1.3"/>
<text x="542.20" y="262.80" font-size="7.6" fill="#222" stroke="#222" stroke-width="0.12"><tspan font-style="italic">p</tspan><tspan>=0.8152</tspan></text>
<line x1="543.50" y1="275.90" x2="571.00" y2="279.30" stroke="#111" stroke-width="0.7"/>
<line x1="543.50" y1="286.10" x2="571.00" y2="284.50" stroke="#111" stroke-width="0.7"/>
<line x1="543.50" y1="287.90" x2="571.00" y2="287.20" stroke="#111" stroke-width="0.7"/>
<line x1="543.50" y1="290.60" x2="571.00" y2="287.90" stroke="#111" stroke-width="0.7"/>
<circle cx="543.50" cy="275.90" r="1.75" fill="#fff" stroke="#111" stroke-width="0.8"/>
<circle cx="543.50" cy="286.10" r="1.75" fill="#fff" stroke="#111" stroke-width="0.8"/>
<circle cx="543.50" cy="287.90" r="1.75" fill="#fff" stroke="#111" stroke-width="0.8"/>
<circle cx="543.50" cy="290.60" r="1.75" fill="#fff" stroke="#111" stroke-width="0.8"/>
<rect x="569.15" y="277.45" width="3.7" height="3.7" fill="#b8bcf0" stroke="#5656b8" stroke-width="0.8"/>
<rect x="569.15" y="282.65" width="3.7" height="3.7" fill="#b8bcf0" stroke="#5656b8" stroke-width="0.8"/>
<rect x="569.15" y="285.35" width="3.7" height="3.7" fill="#b8bcf0" stroke="#5656b8" stroke-width="0.8"/>
<rect x="569.15" y="286.05" width="3.7" height="3.7" fill="#b8bcf0" stroke="#5656b8" stroke-width="0.8"/>
<text x="557.00" y="310.50" font-size="7.1" fill="#222" stroke="#222" stroke-width="0.12" text-anchor="middle">light off light on</text>
<text x="0" y="0" font-size="7.1" fill="#222" stroke="#222" stroke-width="0.12" text-anchor="middle" transform="translate(513.56,268.10) rotate(-90)">Frequency (Hz)</text>
<line x1="609.50" y1="238.60" x2="609.50" y2="299.90" stroke="#4a4a4a" stroke-width="0.9"/>
<line x1="607.20" y1="299.50" x2="609.20" y2="299.50" stroke="#4a4a4a" stroke-width="0.9"/>
<text x="605.20" y="302.17" font-size="6.3" fill="#222" stroke="#222" stroke-width="0.12" text-anchor="end">0</text>
<line x1="607.20" y1="279.50" x2="609.20" y2="279.50" stroke="#4a4a4a" stroke-width="0.9"/>
<text x="605.20" y="281.73" font-size="6.3" fill="#222" stroke="#222" stroke-width="0.12" text-anchor="end">5</text>
<line x1="607.20" y1="259.50" x2="609.20" y2="259.50" stroke="#4a4a4a" stroke-width="0.9"/>
<text x="605.20" y="261.30" font-size="6.3" fill="#222" stroke="#222" stroke-width="0.12" text-anchor="end">10</text>
<line x1="607.20" y1="238.50" x2="609.20" y2="238.50" stroke="#4a4a4a" stroke-width="0.9"/>
<text x="605.20" y="240.87" font-size="6.3" fill="#222" stroke="#222" stroke-width="0.12" text-anchor="end">15</text>
<line x1="609.20" y1="299.50" x2="668.70" y2="299.50" stroke="#4a4a4a" stroke-width="0.9"/>
<text x="637.50" y="230.60" font-size="8.0" fill="#222" stroke="#222" stroke-width="0.12" text-anchor="middle">ChR2</text>
<line x1="623.30" y1="239.50" x2="653.70" y2="239.50" stroke="#4a4a4a" stroke-width="0.9"/>
<text x="633.80" y="236.40" font-size="7.6" fill="#222" stroke="#222" stroke-width="0.12"><tspan dy="2.58" font-weight="bold">**</tspan><tspan dy="-2.58"> </tspan><tspan font-style="italic">p</tspan><tspan>=0.0059</tspan></text>
<line x1="625.00" y1="277.70" x2="652.90" y2="246.00" stroke="#111" stroke-width="0.7"/>
<line x1="625.00" y1="284.50" x2="652.90" y2="255.70" stroke="#111" stroke-width="0.7"/>
<line x1="625.00" y1="286.70" x2="652.90" y2="242.60" stroke="#111" stroke-width="0.7"/>
<line x1="625.00" y1="291.90" x2="652.90" y2="264.10" stroke="#111" stroke-width="0.7"/>
<circle cx="625.00" cy="277.70" r="1.75" fill="#fff" stroke="#111" stroke-width="0.8"/>
<circle cx="625.00" cy="284.50" r="1.75" fill="#fff" stroke="#111" stroke-width="0.8"/>
<circle cx="625.00" cy="286.70" r="1.75" fill="#fff" stroke="#111" stroke-width="0.8"/>
<circle cx="625.00" cy="291.90" r="1.75" fill="#fff" stroke="#111" stroke-width="0.8"/>
<rect x="651.05" y="244.15" width="3.7" height="3.7" fill="#b8bcf0" stroke="#5656b8" stroke-width="0.8"/>
<rect x="651.05" y="253.85" width="3.7" height="3.7" fill="#b8bcf0" stroke="#5656b8" stroke-width="0.8"/>
<rect x="651.05" y="240.75" width="3.7" height="3.7" fill="#b8bcf0" stroke="#5656b8" stroke-width="0.8"/>
<rect x="651.05" y="262.25" width="3.7" height="3.7" fill="#b8bcf0" stroke="#5656b8" stroke-width="0.8"/>
<text x="623.20" y="310.50" font-size="7.6" fill="#222" stroke="#222" stroke-width="0.12" text-anchor="middle">light off</text>
<text x="653.20" y="310.50" font-size="7.6" fill="#222" stroke="#222" stroke-width="0.12" text-anchor="middle">light on</text>
<text x="0" y="0" font-size="7.1" fill="#222" stroke="#222" stroke-width="0.12" text-anchor="middle" transform="translate(595.96,268.10) rotate(-90)">Frequency (Hz)</text>
<text x="2.20" y="344.40" font-size="11.2" fill="#222" stroke="#222" stroke-width="0.12">g</text>
<rect x="2.50" y="357.50" width="49.00" height="11.00" fill="#f7eefa" stroke="#f3a6cc" stroke-width="1"/>
<text x="27.05" y="365.80" font-size="7.2" fill="#222" stroke="#222" stroke-width="0.12" text-anchor="middle">eYFP-light off</text>
<rect x="25.50" y="376.50" width="7.00" height="50.00" fill="none" stroke="#f3a6cc" stroke-width="0.9" stroke-dasharray="4,2.4" rx="1"/>
<rect x="4.50" y="398.50" width="49.00" height="6.00" fill="none" stroke="#f3a6cc" stroke-width="1"/>
<polyline points="28.39,377.9 28.69,379.9 28.62,381.8 28.67,383.8 28.32,385.7 28.04,387.7 28.00,389.6 27.97,391.6 28.11,393.6 28.41,395.5 28.64,397.5 28.63,399.4 28.66,401.4 28.32,403.4 28.18,405.3 27.98,407.3 27.96,409.2 28.21,411.2 28.50,413.1 28.65,415.1 28.73,417.1 28.50,419.0 28.28,421.0 28.05,422.9 28.00,424.9" fill="none" stroke="#888" stroke-width="0.45" stroke-opacity="1.0"/>
<polyline points="6.1,401.60 8.9,401.67 11.8,401.87 14.6,401.84 17.4,401.65 20.3,401.43 23.1,401.61 25.9,401.52 28.8,401.76 31.6,401.75 34.4,401.84 37.2,401.59 40.1,401.46 42.9,401.52 45.7,401.52 48.6,401.65 51.4,401.65" fill="none" stroke="#1a1a1a" stroke-width="1.4" stroke-opacity="1.0"/>
<polyline points="7.0,401.91 8.8,401.47 10.6,401.13 12.4,401.49 14.2,401.80 16.1,402.33 17.9,401.96 19.7,401.64 21.5,401.56 23.3,401.29 25.1,401.83 26.9,401.80 28.8,402.18 30.6,402.07 32.4,401.68 34.2,401.52 36.0,401.42 37.8,401.51 39.6,401.82 41.4,402.21 43.2,401.86 45.1,401.69 46.9,401.62 48.7,401.72 50.5,401.67" fill="none" stroke="#666" stroke-width="0.3" stroke-opacity="1.0"/>
<polyline points="28.73,400.72 28.75,402.66 27.38,402.43 28.46,400.75 29.95,400.92 27.96,402.21 27.06,400.86 29.29,403.20 27.45,401.47 28.46,402.16 29.02,399.74 28.52,400.75 27.82,403.13 30.34,402.38 27.75,400.50 29.07,402.21 31.01,401.73 29.40,400.56 27.44,402.72 27.49,401.71 27.78,400.76 28.84,400.17 28.49,403.01 27.27,400.93 29.15,400.15 26.92,402.79 30.22,402.14 28.67,401.11 30.88,402.30 28.55,402.71 28.40,400.19 29.18,403.45 28.79,401.71 28.30,402.56 27.93,402.96 27.27,400.81 29.47,400.92 28.26,402.71 29.78,401.52 27.80,403.37" fill="none" stroke="#555" stroke-width="0.35"/>
<rect x="54.50" y="357.50" width="49.00" height="11.00" fill="#c6c9f8" stroke="#a6aaf2" stroke-width="1"/>
<text x="78.95" y="365.80" font-size="7.2" fill="#222" stroke="#222" stroke-width="0.12" text-anchor="middle">eYFP-light on</text>
<rect x="76.50" y="376.50" width="6.00" height="50.00" fill="none" stroke="#a6aaf2" stroke-width="0.9" stroke-dasharray="4,2.4" rx="1"/>
<rect x="55.50" y="398.50" width="48.00" height="6.00" fill="none" stroke="#f3a6cc" stroke-width="1"/>
<polyline points="79.22,377.9 79.01,379.9 78.71,381.8 78.54,383.8 78.54,385.7 78.78,387.7 78.97,389.6 79.17,391.6 79.30,393.6 79.17,395.5 79.03,397.5 78.65,399.4 78.52,401.4 78.57,403.4 78.81,405.3 78.99,407.3 79.31,409.2 79.31,411.2 79.28,413.1 78.90,415.1 78.82,417.1 78.57,419.0 78.71,421.0 78.91,422.9 79.03,424.9" fill="none" stroke="#999" stroke-width="0.45" stroke-opacity="1.0"/>
<polyline points="57.0,401.82 59.8,401.73 62.6,401.76 65.4,401.57 68.2,401.46 71.0,401.58 73.8,401.71 76.6,401.69 79.3,401.80 82.1,401.77 84.9,401.48 87.7,401.53 90.5,401.67 93.3,401.61 96.1,401.75 98.9,401.83 101.7,401.66" fill="none" stroke="#333" stroke-width="1.1" stroke-opacity="1.0"/>
<polyline points="57.9,401.89 59.7,402.26 61.5,402.16 63.3,401.86 65.0,401.57 66.8,401.41 68.6,401.75 70.4,401.81 72.2,402.30 74.0,401.86 75.8,401.69 77.6,401.76 79.3,401.41 81.1,401.61 82.9,401.77 84.7,401.96 86.5,402.19 88.3,401.58 90.1,401.17 91.9,401.55 93.7,401.54 95.4,402.07 97.2,401.99 99.0,401.94 100.8,401.76" fill="none" stroke="#666" stroke-width="0.3" stroke-opacity="1.0"/>
<polyline points="79.37,402.19 78.97,403.22 79.57,403.18 78.45,402.59 79.19,401.22 80.45,400.57 79.31,402.40 77.37,401.70 79.93,401.41 78.12,403.04 79.08,403.16 77.97,400.68 78.95,401.16 81.30,401.54 80.52,400.53 80.62,400.89 80.35,402.17 79.08,403.38 79.46,401.99 80.88,400.65 78.23,401.03 80.00,402.81 79.58,400.06 80.76,402.20 81.45,401.93 79.35,401.24 80.27,401.47 78.49,400.86 80.99,402.20 79.47,400.95 80.72,401.07 80.26,401.78 81.50,401.77 78.64,402.18 81.03,401.78 79.79,402.66 78.30,401.87 78.55,400.52 78.27,403.15 77.60,401.78" fill="none" stroke="#777" stroke-width="0.35"/>
<rect x="105.50" y="357.50" width="49.00" height="11.00" fill="#f7eefa" stroke="#f3a6cc" stroke-width="1"/>
<text x="129.85" y="365.80" font-size="7.2" fill="#222" stroke="#222" stroke-width="0.12" text-anchor="middle">ChR2-light off</text>
<rect x="126.50" y="376.50" width="7.00" height="50.00" fill="none" stroke="#f3a6cc" stroke-width="0.9" stroke-dasharray="4,2.4" rx="1"/>
<rect x="105.50" y="398.50" width="49.00" height="6.00" fill="none" stroke="#f3a6cc" stroke-width="1"/>
<polyline points="129.04,377.9 129.13,379.9 129.34,381.8 129.60,383.8 129.78,385.7 129.82,387.7 129.57,389.6 129.47,391.6 129.16,393.6 129.08,395.5 129.12,397.5 129.41,399.4 129.66,401.4 129.72,403.4 129.82,405.3 129.63,407.3 129.34,409.2 129.14,411.2 129.01,413.1 129.24,415.1 129.50,417.1 129.68,419.0 129.72,421.0 129.74,422.9 129.67,424.9" fill="none" stroke="#888" stroke-width="0.45" stroke-opacity="1.0"/>
<polyline points="107.0,401.54 109.9,401.72 112.7,401.76 115.6,401.80 118.4,401.71 121.3,401.57 124.1,401.49 127.0,401.64 129.8,401.76 132.7,401.77 135.6,401.77 138.4,401.69 141.3,401.57 144.1,401.55 147.0,401.57 149.8,401.75 152.7,401.92" fill="none" stroke="#1a1a1a" stroke-width="1.4" stroke-opacity="1.0"/>
<polyline points="107.9,401.65 109.7,401.45 111.6,401.33 113.4,401.68 115.2,401.77 117.0,402.24 118.9,401.95 120.7,401.58 122.5,401.64 124.4,401.40 126.2,401.58 128.0,401.74 129.8,402.10 131.7,402.10 133.5,401.73 135.3,401.33 137.2,401.36 139.0,401.64 140.8,402.05 142.7,402.04 144.5,401.88 146.3,401.60 148.1,401.47 150.0,401.45 151.8,401.74" fill="none" stroke="#666" stroke-width="0.3" stroke-opacity="1.0"/>
<polyline points="130.06,400.73 129.71,401.96 130.20,403.28 129.24,401.84 132.16,401.84 131.37,402.23 128.40,401.54 129.85,402.76 128.37,402.13 131.69,400.58 131.01,402.04 131.54,401.86 128.95,400.49 131.01,402.23 130.76,403.14 130.57,400.25 127.59,401.41 129.05,401.08 131.43,400.83 130.95,400.88 128.02,401.18 129.20,401.51 130.31,402.74 130.27,401.69 129.01,400.02 129.83,400.43 130.90,400.75 131.07,402.05 131.55,400.47 130.51,400.58 130.57,402.74 128.45,401.46 130.47,402.06 129.59,401.39 130.03,402.58 130.23,402.40 130.54,400.44 129.89,403.42 130.13,401.78 129.81,403.32" fill="none" stroke="#666" stroke-width="0.35"/>
<rect x="156.50" y="357.50" width="49.00" height="11.00" fill="#c6c9f8" stroke="#a6aaf2" stroke-width="1"/>
<text x="180.65" y="365.80" font-size="7.2" fill="#222" stroke="#222" stroke-width="0.12" text-anchor="middle">ChR2-light on</text>
<rect x="177.50" y="376.50" width="6.00" height="50.00" fill="none" stroke="#a6aaf2" stroke-width="0.9" stroke-dasharray="4,2.4" rx="1"/>
<rect x="156.50" y="398.50" width="49.00" height="6.00" fill="none" stroke="#f3a6cc" stroke-width="1"/>
<polyline points="179.87,377.9 180.02,379.9 180.18,381.8 180.34,383.8 180.57,385.7 180.65,387.7 180.50,389.6 180.37,391.6 180.13,393.6 179.99,395.5 179.96,397.5 180.16,399.4 180.44,401.4 180.43,403.4 180.64,405.3 180.56,407.3 180.18,409.2 180.10,411.2 179.87,413.1 180.02,415.1 180.03,417.1 180.34,419.0 180.55,421.0 180.61,422.9 180.45,424.9" fill="none" stroke="#777" stroke-width="0.5" stroke-opacity="1.0"/>
<polyline points="157.9,401.62 160.7,401.70 163.6,401.78 166.4,401.66 169.3,401.60 172.1,401.46 175.0,401.61 177.8,401.59 180.7,401.70 183.5,401.77 186.3,401.80 189.2,401.73 192.0,401.60 194.9,401.54 197.7,401.55 200.6,401.68 203.4,401.84" fill="none" stroke="#222" stroke-width="1.3" stroke-opacity="1.0"/>
<polyline points="158.8,401.77 160.6,402.09 162.4,401.90 164.3,401.92 166.1,401.54 167.9,401.38 169.7,401.65 171.5,401.85 173.4,401.84 175.2,402.17 177.0,401.62 178.8,401.25 180.7,401.31 182.5,401.76 184.3,401.84 186.1,402.04 187.9,402.06 189.8,401.71 191.6,401.65 193.4,401.50 195.2,401.63 197.0,401.92 198.9,402.07 200.7,401.98 202.5,401.89" fill="none" stroke="#666" stroke-width="0.3" stroke-opacity="1.0"/>
<polyline points="179.86,402.76 179.29,402.53 178.68,401.63 180.93,400.26 179.57,400.20 178.95,400.34 179.42,400.11 181.71,402.41 179.69,402.59 182.44,402.31 180.47,399.76 178.91,402.70 181.34,400.31 180.48,402.47 180.95,401.03 181.30,400.41 181.99,402.04 178.62,401.16 179.20,402.77 181.64,400.46 181.42,402.50 180.67,400.29 178.64,400.86 178.43,402.14 182.50,401.73 180.81,402.17 181.96,402.73 182.01,400.99 180.88,401.63 181.49,402.50 180.44,402.87 181.46,403.19 180.64,401.84 179.75,401.47 182.36,402.66 179.41,400.98 181.79,401.70 181.66,402.90 181.98,400.76 180.71,400.20" fill="none" stroke="#333" stroke-width="0.35"/>
<text x="33.30" y="396.80" font-size="7.9" fill="#222" stroke="#222" stroke-width="0.12">closed arm</text>
<text x="13.00" y="432.40" font-size="7.9" fill="#222" stroke="#222" stroke-width="0.12">open arm</text>
<text x="208.60" y="348.30" font-size="11.2" fill="#222" stroke="#222" stroke-width="0.12">h</text>
<text x="311.00" y="357.60" font-size="10.6" fill="#222" stroke="#222" stroke-width="0.12" textLength="17.3" lengthAdjust="spacingAndGlyphs">EPM</text>
<line x1="227.50" y1="368.90" x2="227.50" y2="428.20" stroke="#222" stroke-width="0.8"/>
<line x1="226.60" y1="428.50" x2="227.80" y2="428.50" stroke="#222" stroke-width="0.8"/>
<text x="225.60" y="430.22" font-size="5.6" fill="#222" stroke="#222" stroke-width="0.12" text-anchor="end">0</text>
<line x1="226.60" y1="416.50" x2="227.80" y2="416.50" stroke="#222" stroke-width="0.8"/>
<text x="225.60" y="418.36" font-size="5.6" fill="#222" stroke="#222" stroke-width="0.12" text-anchor="end">30</text>
<line x1="226.60" y1="404.50" x2="227.80" y2="404.50" stroke="#222" stroke-width="0.8"/>
<text x="225.60" y="406.50" font-size="5.6" fill="#222" stroke="#222" stroke-width="0.12" text-anchor="end">60</text>
<line x1="226.60" y1="392.50" x2="227.80" y2="392.50" stroke="#222" stroke-width="0.8"/>
<text x="225.60" y="394.64" font-size="5.6" fill="#222" stroke="#222" stroke-width="0.12" text-anchor="end">90</text>
<line x1="226.60" y1="380.50" x2="227.80" y2="380.50" stroke="#222" stroke-width="0.8"/>
<text x="225.60" y="382.78" font-size="5.6" fill="#222" stroke="#222" stroke-width="0.12" text-anchor="end">120</text>
<line x1="226.60" y1="368.50" x2="227.80" y2="368.50" stroke="#222" stroke-width="0.8"/>
<text x="225.60" y="370.92" font-size="5.6" fill="#222" stroke="#222" stroke-width="0.12" text-anchor="end">150</text>
<line x1="227.80" y1="428.50" x2="314.20" y2="428.50" stroke="#222" stroke-width="0.8"/>
<line x1="249.50" y1="428.20" x2="249.50" y2="429.80" stroke="#222" stroke-width="0.8"/>
<line x1="292.50" y1="428.20" x2="292.50" y2="429.80" stroke="#222" stroke-width="0.8"/>
<rect x="235.50" y="422.50" width="11.00" height="6.00" fill="#f5c4ee" stroke="#333" stroke-width="0.6"/>
<rect x="252.50" y="421.50" width="10.00" height="7.00" fill="#c8c8fa" stroke="#333" stroke-width="0.6"/>
<rect x="279.50" y="420.50" width="10.00" height="8.00" fill="#f5c4ee" stroke="#333" stroke-width="0.6"/>
<rect x="294.50" y="403.50" width="11.00" height="25.00" fill="#c8c8fa" stroke="#333" stroke-width="0.6"/>
<line x1="241.20" y1="415.00" x2="257.50" y2="417.60" stroke="#111" stroke-width="0.75"/>
<line x1="241.20" y1="423.90" x2="257.50" y2="415.00" stroke="#111" stroke-width="0.75"/>
<line x1="241.20" y1="427.40" x2="257.50" y2="420.00" stroke="#111" stroke-width="0.75"/>
<line x1="241.20" y1="425.50" x2="257.50" y2="428.30" stroke="#111" stroke-width="0.75"/>
<line x1="241.20" y1="427.80" x2="257.50" y2="423.90" stroke="#111" stroke-width="0.75"/>
<circle cx="241.20" cy="415.00" r="1.75" fill="#fff" stroke="#222" stroke-width="0.65"/>
<circle cx="241.20" cy="423.90" r="1.75" fill="#fff" stroke="#222" stroke-width="0.65"/>
<circle cx="241.20" cy="427.40" r="1.75" fill="#fff" stroke="#222" stroke-width="0.65"/>
<circle cx="241.20" cy="425.50" r="1.75" fill="#fff" stroke="#222" stroke-width="0.65"/>
<circle cx="241.20" cy="427.80" r="1.75" fill="#fff" stroke="#222" stroke-width="0.65"/>
<rect x="255.75" y="415.85" width="3.5" height="3.5" fill="#fff" stroke="#222" stroke-width="0.65"/>
<rect x="255.75" y="413.25" width="3.5" height="3.5" fill="#fff" stroke="#222" stroke-width="0.65"/>
<rect x="255.75" y="418.25" width="3.5" height="3.5" fill="#fff" stroke="#222" stroke-width="0.65"/>
<rect x="255.75" y="426.55" width="3.5" height="3.5" fill="#fff" stroke="#222" stroke-width="0.65"/>
<rect x="255.75" y="422.15" width="3.5" height="3.5" fill="#fff" stroke="#222" stroke-width="0.65"/>
<line x1="284.40" y1="407.80" x2="300.40" y2="392.00" stroke="#111" stroke-width="0.75"/>
<line x1="284.40" y1="413.70" x2="300.40" y2="369.80" stroke="#111" stroke-width="0.75"/>
<line x1="284.40" y1="416.40" x2="300.40" y2="394.40" stroke="#111" stroke-width="0.75"/>
<line x1="284.40" y1="419.00" x2="300.40" y2="397.30" stroke="#111" stroke-width="0.75"/>
<line x1="284.40" y1="421.90" x2="300.40" y2="406.60" stroke="#111" stroke-width="0.75"/>
<line x1="284.40" y1="424.30" x2="300.40" y2="410.10" stroke="#111" stroke-width="0.75"/>
<line x1="284.40" y1="426.90" x2="300.40" y2="412.50" stroke="#111" stroke-width="0.75"/>
<line x1="284.40" y1="429.00" x2="300.40" y2="415.00" stroke="#111" stroke-width="0.75"/>
<circle cx="284.40" cy="407.80" r="1.75" fill="#fff" stroke="#222" stroke-width="0.65"/>
<circle cx="284.40" cy="413.70" r="1.75" fill="#fff" stroke="#222" stroke-width="0.65"/>
<circle cx="284.40" cy="416.40" r="1.75" fill="#fff" stroke="#222" stroke-width="0.65"/>
<circle cx="284.40" cy="419.00" r="1.75" fill="#fff" stroke="#222" stroke-width="0.65"/>
<circle cx="284.40" cy="421.90" r="1.75" fill="#fff" stroke="#222" stroke-width="0.65"/>
<circle cx="284.40" cy="424.30" r="1.75" fill="#fff" stroke="#222" stroke-width="0.65"/>
<circle cx="284.40" cy="426.90" r="1.75" fill="#fff" stroke="#222" stroke-width="0.65"/>
<circle cx="284.40" cy="429.00" r="1.75" fill="#fff" stroke="#222" stroke-width="0.65"/>
<rect x="298.65" y="390.25" width="3.5" height="3.5" fill="#fff" stroke="#222" stroke-width="0.65"/>
<rect x="298.65" y="368.05" width="3.5" height="3.5" fill="#fff" stroke="#222" stroke-width="0.65"/>
<rect x="298.65" y="392.65" width="3.5" height="3.5" fill="#fff" stroke="#222" stroke-width="0.65"/>
<rect x="298.65" y="395.55" width="3.5" height="3.5" fill="#fff" stroke="#222" stroke-width="0.65"/>
<rect x="298.65" y="404.85" width="3.5" height="3.5" fill="#fff" stroke="#222" stroke-width="0.65"/>
<rect x="298.65" y="408.35" width="3.5" height="3.5" fill="#fff" stroke="#222" stroke-width="0.65"/>
<rect x="298.65" y="410.75" width="3.5" height="3.5" fill="#fff" stroke="#222" stroke-width="0.65"/>
<rect x="298.65" y="413.25" width="3.5" height="3.5" fill="#fff" stroke="#222" stroke-width="0.65"/>
<rect x="298.65" y="416.25" width="3.5" height="3.5" fill="#fff" stroke="#222" stroke-width="0.65"/>
<line x1="229.90" y1="363.50" x2="236.30" y2="363.50" stroke="#222" stroke-width="0.8"/>
<circle cx="233.10" cy="363.40" r="1.55" fill="#fff" stroke="#222" stroke-width="0.8"/>
<text x="240.70" y="365.31" font-size="5.3" fill="#222" stroke="#222" stroke-width="0.12">light-off</text>
<line x1="229.90" y1="370.50" x2="236.30" y2="370.50" stroke="#222" stroke-width="0.8"/>
<rect x="231.60" y="368.90" width="3.0" height="3.0" fill="#fff" stroke="#222" stroke-width="0.8"/>
<text x="240.70" y="372.31" font-size="5.3" fill="#222" stroke="#222" stroke-width="0.12">light-on</text>
<line x1="240.70" y1="408.50" x2="257.50" y2="408.50" stroke="#222" stroke-width="0.8"/>
<text x="235.20" y="405.60" font-size="7.6" fill="#222" stroke="#222" stroke-width="0.12"><tspan font-style="italic">p</tspan><tspan>=0.4505</tspan></text>
<text x="293.7" y="368.3" font-size="9.5" font-weight="bold" fill="#222" text-anchor="middle">*</text>
<line x1="285.00" y1="367.50" x2="301.00" y2="367.50" stroke="#222" stroke-width="0.8"/>
<text x="265.30" y="375.00" font-size="7.6" fill="#222" stroke="#222" stroke-width="0.12"><tspan font-style="italic">p</tspan><tspan>=0.0484</tspan></text>
<text x="249.50" y="436.80" font-size="6.5" fill="#222" stroke="#222" stroke-width="0.12" text-anchor="middle">eYFP</text>
<text x="292.20" y="436.80" font-size="6.5" fill="#222" stroke="#222" stroke-width="0.12" text-anchor="middle">ChR2</text>
<text x="0" y="0" font-size="5.3" fill="#222" stroke="#222" stroke-width="0.12" text-anchor="middle" transform="translate(213.21,397.30) rotate(-90)" textLength="61.8" lengthAdjust="spacingAndGlyphs">Open arm duration(s)</text>
<line x1="340.50" y1="368.20" x2="340.50" y2="428.30" stroke="#222" stroke-width="0.8"/>
<line x1="339.10" y1="428.50" x2="340.50" y2="428.50" stroke="#222" stroke-width="0.8"/>
<text x="338.10" y="430.32" font-size="5.6" fill="#222" stroke="#222" stroke-width="0.12" text-anchor="end">0</text>
<line x1="339.10" y1="408.50" x2="340.50" y2="408.50" stroke="#222" stroke-width="0.8"/>
<text x="338.10" y="410.28" font-size="5.6" fill="#222" stroke="#222" stroke-width="0.12" text-anchor="end">1000</text>
<line x1="339.10" y1="388.50" x2="340.50" y2="388.50" stroke="#222" stroke-width="0.8"/>
<text x="338.10" y="390.25" font-size="5.6" fill="#222" stroke="#222" stroke-width="0.12" text-anchor="end">2000</text>
<line x1="339.10" y1="368.50" x2="340.50" y2="368.50" stroke="#222" stroke-width="0.8"/>
<text x="338.10" y="370.22" font-size="5.6" fill="#222" stroke="#222" stroke-width="0.12" text-anchor="end">3000</text>
<line x1="340.50" y1="428.50" x2="432.50" y2="428.50" stroke="#222" stroke-width="0.8"/>
<line x1="364.50" y1="428.30" x2="364.50" y2="429.90" stroke="#222" stroke-width="0.8"/>
<line x1="411.50" y1="428.30" x2="411.50" y2="429.90" stroke="#222" stroke-width="0.8"/>
<rect x="350.50" y="402.50" width="11.00" height="26.00" fill="#f5c4ee" stroke="#333" stroke-width="0.6"/>
<rect x="367.50" y="403.50" width="11.00" height="25.00" fill="#c8c8fa" stroke="#333" stroke-width="0.6"/>
<rect x="397.50" y="406.50" width="11.00" height="22.00" fill="#f5c4ee" stroke="#333" stroke-width="0.6"/>
<rect x="414.50" y="409.50" width="11.00" height="19.00" fill="#c8c8fa" stroke="#333" stroke-width="0.6"/>
<line x1="355.70" y1="375.70" x2="373.50" y2="419.00" stroke="#111" stroke-width="0.75"/>
<line x1="355.70" y1="395.40" x2="373.50" y2="381.60" stroke="#111" stroke-width="0.75"/>
<line x1="355.70" y1="400.70" x2="373.50" y2="410.10" stroke="#111" stroke-width="0.75"/>
<line x1="355.70" y1="410.70" x2="373.50" y2="425.50" stroke="#111" stroke-width="0.75"/>
<line x1="355.70" y1="413.10" x2="373.50" y2="391.40" stroke="#111" stroke-width="0.75"/>
<line x1="355.70" y1="418.60" x2="373.50" y2="402.60" stroke="#111" stroke-width="0.75"/>
<line x1="355.70" y1="410.00" x2="373.50" y2="393.40" stroke="#111" stroke-width="0.75"/>
<circle cx="355.70" cy="375.70" r="1.75" fill="#fff" stroke="#222" stroke-width="0.65"/>
<circle cx="355.70" cy="395.40" r="1.75" fill="#fff" stroke="#222" stroke-width="0.65"/>
<circle cx="355.70" cy="400.70" r="1.75" fill="#fff" stroke="#222" stroke-width="0.65"/>
<circle cx="355.70" cy="410.70" r="1.75" fill="#fff" stroke="#222" stroke-width="0.65"/>
<circle cx="355.70" cy="413.10" r="1.75" fill="#fff" stroke="#222" stroke-width="0.65"/>
<circle cx="355.70" cy="418.60" r="1.75" fill="#fff" stroke="#222" stroke-width="0.65"/>
<circle cx="355.70" cy="410.00" r="1.75" fill="#fff" stroke="#222" stroke-width="0.65"/>
<rect x="371.75" y="417.25" width="3.5" height="3.5" fill="#fff" stroke="#222" stroke-width="0.65"/>
<rect x="371.75" y="379.85" width="3.5" height="3.5" fill="#fff" stroke="#222" stroke-width="0.65"/>
<rect x="371.75" y="408.35" width="3.5" height="3.5" fill="#fff" stroke="#222" stroke-width="0.65"/>
<rect x="371.75" y="423.75" width="3.5" height="3.5" fill="#fff" stroke="#222" stroke-width="0.65"/>
<rect x="371.75" y="389.65" width="3.5" height="3.5" fill="#fff" stroke="#222" stroke-width="0.65"/>
<rect x="371.75" y="400.85" width="3.5" height="3.5" fill="#fff" stroke="#222" stroke-width="0.65"/>
<rect x="371.75" y="391.65" width="3.5" height="3.5" fill="#fff" stroke="#222" stroke-width="0.65"/>
<line x1="402.60" y1="393.40" x2="419.70" y2="404.20" stroke="#111" stroke-width="0.75"/>
<line x1="402.60" y1="395.40" x2="419.70" y2="406.20" stroke="#111" stroke-width="0.75"/>
<line x1="402.60" y1="396.70" x2="419.70" y2="408.10" stroke="#111" stroke-width="0.75"/>
<line x1="402.60" y1="404.20" x2="419.70" y2="401.90" stroke="#111" stroke-width="0.75"/>
<line x1="402.60" y1="408.50" x2="419.70" y2="410.10" stroke="#111" stroke-width="0.75"/>
<line x1="402.60" y1="411.70" x2="419.70" y2="412.50" stroke="#111" stroke-width="0.75"/>
<line x1="402.60" y1="413.10" x2="419.70" y2="410.10" stroke="#111" stroke-width="0.75"/>
<line x1="402.60" y1="418.00" x2="419.70" y2="415.00" stroke="#111" stroke-width="0.75"/>
<circle cx="402.60" cy="393.40" r="1.75" fill="#fff" stroke="#222" stroke-width="0.65"/>
<circle cx="402.60" cy="395.40" r="1.75" fill="#fff" stroke="#222" stroke-width="0.65"/>
<circle cx="402.60" cy="396.70" r="1.75" fill="#fff" stroke="#222" stroke-width="0.65"/>
<circle cx="402.60" cy="404.20" r="1.75" fill="#fff" stroke="#222" stroke-width="0.65"/>
<circle cx="402.60" cy="408.50" r="1.75" fill="#fff" stroke="#222" stroke-width="0.65"/>
<circle cx="402.60" cy="411.70" r="1.75" fill="#fff" stroke="#222" stroke-width="0.65"/>
<circle cx="402.60" cy="413.10" r="1.75" fill="#fff" stroke="#222" stroke-width="0.65"/>
<circle cx="402.60" cy="418.00" r="1.75" fill="#fff" stroke="#222" stroke-width="0.65"/>
<rect x="417.95" y="402.45" width="3.5" height="3.5" fill="#fff" stroke="#222" stroke-width="0.65"/>
<rect x="417.95" y="404.45" width="3.5" height="3.5" fill="#fff" stroke="#222" stroke-width="0.65"/>
<rect x="417.95" y="406.35" width="3.5" height="3.5" fill="#fff" stroke="#222" stroke-width="0.65"/>
<rect x="417.95" y="400.15" width="3.5" height="3.5" fill="#fff" stroke="#222" stroke-width="0.65"/>
<rect x="417.95" y="408.35" width="3.5" height="3.5" fill="#fff" stroke="#222" stroke-width="0.65"/>
<rect x="417.95" y="410.75" width="3.5" height="3.5" fill="#fff" stroke="#222" stroke-width="0.65"/>
<rect x="417.95" y="408.35" width="3.5" height="3.5" fill="#fff" stroke="#222" stroke-width="0.65"/>
<rect x="417.95" y="413.25" width="3.5" height="3.5" fill="#fff" stroke="#222" stroke-width="0.65"/>
<line x1="400.00" y1="363.50" x2="406.40" y2="363.50" stroke="#222" stroke-width="0.8"/>
<circle cx="403.20" cy="363.30" r="1.55" fill="#fff" stroke="#222" stroke-width="0.8"/>
<text x="410.80" y="365.21" font-size="5.3" fill="#222" stroke="#222" stroke-width="0.12">light-off</text>
<line x1="400.00" y1="369.50" x2="406.40" y2="369.50" stroke="#222" stroke-width="0.8"/>
<rect x="401.70" y="368.30" width="3.0" height="3.0" fill="#fff" stroke="#222" stroke-width="0.8"/>
<text x="410.80" y="371.71" font-size="5.3" fill="#222" stroke="#222" stroke-width="0.12">light-on</text>
<line x1="355.70" y1="372.50" x2="372.50" y2="372.50" stroke="#222" stroke-width="0.8"/>
<text x="347.80" y="369.80" font-size="7.5" fill="#222" stroke="#222" stroke-width="0.12"><tspan font-style="italic">p</tspan><tspan>=0.8081</tspan></text>
<line x1="403.00" y1="388.50" x2="420.70" y2="388.50" stroke="#222" stroke-width="0.8"/>
<text x="397.00" y="385.80" font-size="7.2" fill="#222" stroke="#222" stroke-width="0.12"><tspan font-style="italic">p</tspan><tspan>=0.4121</tspan></text>
<text x="364.20" y="436.70" font-size="6.5" fill="#222" stroke="#222" stroke-width="0.12" text-anchor="middle">eYFP</text>
<text x="411.40" y="436.70" font-size="6.5" fill="#222" stroke="#222" stroke-width="0.12" text-anchor="middle">ChR2</text>
<text x="0" y="0" font-size="5.1" fill="#222" stroke="#222" stroke-width="0.12" text-anchor="middle" transform="translate(323.24,398.20) rotate(-90)" textLength="53.0" lengthAdjust="spacingAndGlyphs">Total distance(cm)</text>
<text x="437.00" y="348.80" font-size="11.2" fill="#222" stroke="#222" stroke-width="0.12">i</text>
<text x="499.20" y="356.10" font-size="10.6" fill="#222" stroke="#222" stroke-width="0.12" textLength="10.2" lengthAdjust="spacingAndGlyphs">TS</text>
<line x1="460.50" y1="369.30" x2="460.50" y2="429.00" stroke="#222" stroke-width="0.8"/>
<line x1="458.80" y1="429.50" x2="460.20" y2="429.50" stroke="#222" stroke-width="0.8"/>
<text x="457.80" y="431.20" font-size="6.1" fill="#222" stroke="#222" stroke-width="0.12" text-anchor="end">0</text>
<line x1="458.80" y1="409.50" x2="460.20" y2="409.50" stroke="#222" stroke-width="0.8"/>
<text x="457.80" y="411.30" font-size="6.1" fill="#222" stroke="#222" stroke-width="0.12" text-anchor="end">200</text>
<line x1="458.80" y1="389.50" x2="460.20" y2="389.50" stroke="#222" stroke-width="0.8"/>
<text x="457.80" y="391.40" font-size="6.1" fill="#222" stroke="#222" stroke-width="0.12" text-anchor="end">400</text>
<line x1="458.80" y1="369.50" x2="460.20" y2="369.50" stroke="#222" stroke-width="0.8"/>
<text x="457.80" y="371.50" font-size="6.1" fill="#222" stroke="#222" stroke-width="0.12" text-anchor="end">600</text>
<line x1="460.20" y1="429.50" x2="556.00" y2="429.50" stroke="#222" stroke-width="0.8"/>
<line x1="487.50" y1="429.00" x2="487.50" y2="430.60" stroke="#222" stroke-width="0.8"/>
<line x1="532.50" y1="429.00" x2="532.50" y2="430.60" stroke="#222" stroke-width="0.8"/>
<rect x="472.50" y="412.50" width="12.00" height="17.00" fill="#f1e6fa" stroke="#9a8494" stroke-width="0.7"/>
<rect x="491.50" y="410.50" width="12.00" height="19.00" fill="#c8c8fa" stroke="#333" stroke-width="0.6"/>
<rect x="517.50" y="407.50" width="12.00" height="22.00" fill="#f1e6fa" stroke="#9a8494" stroke-width="0.7"/>
<rect x="536.50" y="424.50" width="12.00" height="5.00" fill="#c8c8fa" stroke="#333" stroke-width="0.6"/>
<line x1="477.90" y1="405.20" x2="497.60" y2="424.90" stroke="#111" stroke-width="0.75"/>
<line x1="477.90" y1="406.60" x2="497.60" y2="394.00" stroke="#111" stroke-width="0.75"/>
<line x1="477.90" y1="415.70" x2="497.60" y2="401.30" stroke="#111" stroke-width="0.75"/>
<line x1="477.90" y1="417.60" x2="497.60" y2="425.90" stroke="#111" stroke-width="0.75"/>
<line x1="477.90" y1="421.60" x2="497.60" y2="408.80" stroke="#111" stroke-width="0.75"/>
<line x1="477.90" y1="412.00" x2="497.60" y2="412.10" stroke="#111" stroke-width="0.75"/>
<line x1="477.90" y1="418.00" x2="497.60" y2="407.80" stroke="#111" stroke-width="0.75"/>
<circle cx="477.90" cy="405.20" r="1.75" fill="#fff" stroke="#222" stroke-width="0.65"/>
<circle cx="477.90" cy="406.60" r="1.75" fill="#fff" stroke="#222" stroke-width="0.65"/>
<circle cx="477.90" cy="415.70" r="1.75" fill="#fff" stroke="#222" stroke-width="0.65"/>
<circle cx="477.90" cy="417.60" r="1.75" fill="#fff" stroke="#222" stroke-width="0.65"/>
<circle cx="477.90" cy="421.60" r="1.75" fill="#fff" stroke="#222" stroke-width="0.65"/>
<circle cx="477.90" cy="412.00" r="1.75" fill="#fff" stroke="#222" stroke-width="0.65"/>
<circle cx="477.90" cy="418.00" r="1.75" fill="#fff" stroke="#222" stroke-width="0.65"/>
<rect x="495.85" y="423.15" width="3.5" height="3.5" fill="#fff" stroke="#222" stroke-width="0.65"/>
<rect x="495.85" y="392.25" width="3.5" height="3.5" fill="#fff" stroke="#222" stroke-width="0.65"/>
<rect x="495.85" y="399.55" width="3.5" height="3.5" fill="#fff" stroke="#222" stroke-width="0.65"/>
<rect x="495.85" y="424.15" width="3.5" height="3.5" fill="#fff" stroke="#222" stroke-width="0.65"/>
<rect x="495.85" y="407.05" width="3.5" height="3.5" fill="#fff" stroke="#222" stroke-width="0.65"/>
<rect x="495.85" y="410.35" width="3.5" height="3.5" fill="#fff" stroke="#222" stroke-width="0.65"/>
<rect x="495.85" y="406.05" width="3.5" height="3.5" fill="#fff" stroke="#222" stroke-width="0.65"/>
<line x1="522.60" y1="390.10" x2="541.90" y2="427.50" stroke="#111" stroke-width="0.75"/>
<line x1="522.60" y1="392.40" x2="541.90" y2="399.90" stroke="#111" stroke-width="0.75"/>
<line x1="522.60" y1="397.30" x2="541.90" y2="424.90" stroke="#111" stroke-width="0.75"/>
<line x1="522.60" y1="412.50" x2="541.90" y2="427.50" stroke="#111" stroke-width="0.75"/>
<line x1="522.60" y1="418.00" x2="541.90" y2="429.00" stroke="#111" stroke-width="0.75"/>
<line x1="522.60" y1="423.90" x2="541.90" y2="424.90" stroke="#111" stroke-width="0.75"/>
<line x1="522.60" y1="429.50" x2="541.90" y2="429.50" stroke="#111" stroke-width="0.75"/>
<circle cx="522.60" cy="390.10" r="1.75" fill="#fff" stroke="#222" stroke-width="0.65"/>
<circle cx="522.60" cy="392.40" r="1.75" fill="#fff" stroke="#222" stroke-width="0.65"/>
<circle cx="522.60" cy="397.30" r="1.75" fill="#fff" stroke="#222" stroke-width="0.65"/>
<circle cx="522.60" cy="412.50" r="1.75" fill="#fff" stroke="#222" stroke-width="0.65"/>
<circle cx="522.60" cy="418.00" r="1.75" fill="#fff" stroke="#222" stroke-width="0.65"/>
<circle cx="522.60" cy="423.90" r="1.75" fill="#fff" stroke="#222" stroke-width="0.65"/>
<circle cx="522.60" cy="429.00" r="1.75" fill="#fff" stroke="#222" stroke-width="0.65"/>
<rect x="540.15" y="425.75" width="3.5" height="3.5" fill="#fff" stroke="#222" stroke-width="0.65"/>
<rect x="540.15" y="398.15" width="3.5" height="3.5" fill="#fff" stroke="#222" stroke-width="0.65"/>
<rect x="540.15" y="423.15" width="3.5" height="3.5" fill="#fff" stroke="#222" stroke-width="0.65"/>
<rect x="540.15" y="425.75" width="3.5" height="3.5" fill="#fff" stroke="#222" stroke-width="0.65"/>
<rect x="540.15" y="427.25" width="3.5" height="3.5" fill="#fff" stroke="#222" stroke-width="0.65"/>
<rect x="540.15" y="423.15" width="3.5" height="3.5" fill="#fff" stroke="#222" stroke-width="0.65"/>
<rect x="540.15" y="427.25" width="3.5" height="3.5" fill="#fff" stroke="#222" stroke-width="0.65"/>
<line x1="463.50" y1="363.50" x2="469.90" y2="363.50" stroke="#222" stroke-width="0.8"/>
<circle cx="466.70" cy="363.30" r="1.55" fill="#fff" stroke="#222" stroke-width="0.8"/>
<text x="474.30" y="365.21" font-size="5.3" fill="#222" stroke="#222" stroke-width="0.12">light-off</text>
<line x1="463.50" y1="369.50" x2="469.90" y2="369.50" stroke="#222" stroke-width="0.8"/>
<rect x="465.20" y="368.30" width="3.0" height="3.0" fill="#fff" stroke="#222" stroke-width="0.8"/>
<text x="474.30" y="371.71" font-size="5.3" fill="#222" stroke="#222" stroke-width="0.12">light-on</text>
<line x1="479.20" y1="388.50" x2="497.00" y2="388.50" stroke="#222" stroke-width="0.8"/>
<text x="471.80" y="385.60" font-size="7.5" fill="#222" stroke="#222" stroke-width="0.12"><tspan font-style="italic">p</tspan><tspan>=0.6801</tspan></text>
<text x="533.2" y="385.6" font-size="9.5" font-weight="bold" fill="#222" text-anchor="middle">*</text>
<line x1="523.00" y1="384.50" x2="541.00" y2="384.50" stroke="#222" stroke-width="0.8"/>
<text x="517.70" y="376.20" font-size="7.4" fill="#222" stroke="#222" stroke-width="0.12"><tspan font-style="italic">p</tspan><tspan>=0.0166</tspan></text>
<text x="486.80" y="438.70" font-size="6.5" fill="#222" stroke="#222" stroke-width="0.12" text-anchor="middle">eYFP</text>
<text x="530.40" y="438.70" font-size="6.5" fill="#222" stroke="#222" stroke-width="0.12" text-anchor="middle">ChR2</text>
<text x="0" y="0" font-size="5.9" fill="#222" stroke="#222" stroke-width="0.12" text-anchor="middle" transform="translate(444.12,399.00) rotate(-90)" textLength="58.1" lengthAdjust="spacingAndGlyphs">Immobility time (s)</text>
<text x="559.90" y="345.50" font-size="11.2" fill="#222" stroke="#222" stroke-width="0.12">j</text>
<text x="621.90" y="356.30" font-size="10.6" fill="#222" stroke="#222" stroke-width="0.12" textLength="23.2" lengthAdjust="spacingAndGlyphs">RTPP</text>
<line x1="578.50" y1="366.80" x2="578.50" y2="431.60" stroke="#222" stroke-width="0.8"/>
<line x1="576.80" y1="431.50" x2="578.20" y2="431.50" stroke="#222" stroke-width="0.8"/>
<text x="575.80" y="433.69" font-size="5.8" fill="#222" stroke="#222" stroke-width="0.12" text-anchor="end">0</text>
<line x1="576.80" y1="415.50" x2="578.20" y2="415.50" stroke="#222" stroke-width="0.8"/>
<text x="575.80" y="417.49" font-size="5.8" fill="#222" stroke="#222" stroke-width="0.12" text-anchor="end">20</text>
<line x1="576.80" y1="399.50" x2="578.20" y2="399.50" stroke="#222" stroke-width="0.8"/>
<text x="575.80" y="401.29" font-size="5.8" fill="#222" stroke="#222" stroke-width="0.12" text-anchor="end">40</text>
<line x1="576.80" y1="383.50" x2="578.20" y2="383.50" stroke="#222" stroke-width="0.8"/>
<text x="575.80" y="385.09" font-size="5.8" fill="#222" stroke="#222" stroke-width="0.12" text-anchor="end">60</text>
<line x1="576.80" y1="366.50" x2="578.20" y2="366.50" stroke="#222" stroke-width="0.8"/>
<text x="575.80" y="368.89" font-size="5.8" fill="#222" stroke="#222" stroke-width="0.12" text-anchor="end">80</text>
<line x1="578.20" y1="431.50" x2="672.80" y2="431.50" stroke="#222" stroke-width="0.8"/>
<line x1="602.50" y1="431.60" x2="602.50" y2="433.20" stroke="#222" stroke-width="0.8"/>
<line x1="651.50" y1="431.60" x2="651.50" y2="433.20" stroke="#222" stroke-width="0.8"/>
<rect x="587.50" y="394.50" width="11.00" height="37.00" fill="#f5c4ee" stroke="#333" stroke-width="0.6"/>
<rect x="605.50" y="395.50" width="12.00" height="36.00" fill="#c8c8fa" stroke="#333" stroke-width="0.6"/>
<rect x="636.50" y="397.50" width="11.00" height="34.00" fill="#f5c4ee" stroke="#333" stroke-width="0.6"/>
<rect x="654.50" y="417.50" width="12.00" height="14.00" fill="#c8c8fa" stroke="#333" stroke-width="0.6"/>
<line x1="593.00" y1="386.50" x2="611.70" y2="384.50" stroke="#111" stroke-width="0.75"/>
<line x1="593.00" y1="390.10" x2="611.70" y2="381.60" stroke="#111" stroke-width="0.75"/>
<line x1="593.00" y1="391.40" x2="611.70" y2="402.70" stroke="#111" stroke-width="0.75"/>
<line x1="593.00" y1="398.70" x2="611.70" y2="406.60" stroke="#111" stroke-width="0.75"/>
<line x1="593.00" y1="407.20" x2="611.70" y2="411.10" stroke="#111" stroke-width="0.75"/>
<line x1="593.00" y1="394.00" x2="611.70" y2="394.40" stroke="#111" stroke-width="0.75"/>
<circle cx="593.00" cy="386.50" r="1.75" fill="#fff" stroke="#222" stroke-width="0.65"/>
<circle cx="593.00" cy="390.10" r="1.75" fill="#fff" stroke="#222" stroke-width="0.65"/>
<circle cx="593.00" cy="391.40" r="1.75" fill="#fff" stroke="#222" stroke-width="0.65"/>
<circle cx="593.00" cy="398.70" r="1.75" fill="#fff" stroke="#222" stroke-width="0.65"/>
<circle cx="593.00" cy="407.20" r="1.75" fill="#fff" stroke="#222" stroke-width="0.65"/>
<circle cx="593.00" cy="394.00" r="1.75" fill="#fff" stroke="#222" stroke-width="0.65"/>
<rect x="609.95" y="382.75" width="3.5" height="3.5" fill="#fff" stroke="#222" stroke-width="0.65"/>
<rect x="609.95" y="379.85" width="3.5" height="3.5" fill="#fff" stroke="#222" stroke-width="0.65"/>
<rect x="609.95" y="400.95" width="3.5" height="3.5" fill="#fff" stroke="#222" stroke-width="0.65"/>
<rect x="609.95" y="404.85" width="3.5" height="3.5" fill="#fff" stroke="#222" stroke-width="0.65"/>
<rect x="609.95" y="409.35" width="3.5" height="3.5" fill="#fff" stroke="#222" stroke-width="0.65"/>
<rect x="609.95" y="392.65" width="3.5" height="3.5" fill="#fff" stroke="#222" stroke-width="0.65"/>
<line x1="641.70" y1="384.50" x2="660.40" y2="384.20" stroke="#111" stroke-width="0.75"/>
<line x1="641.70" y1="389.50" x2="660.40" y2="405.20" stroke="#111" stroke-width="0.75"/>
<line x1="641.70" y1="391.40" x2="660.40" y2="414.10" stroke="#111" stroke-width="0.75"/>
<line x1="641.70" y1="393.40" x2="660.40" y2="417.60" stroke="#111" stroke-width="0.75"/>
<line x1="641.70" y1="396.00" x2="660.40" y2="424.90" stroke="#111" stroke-width="0.75"/>
<line x1="641.70" y1="398.70" x2="660.40" y2="428.30" stroke="#111" stroke-width="0.75"/>
<line x1="641.70" y1="401.90" x2="660.40" y2="430.20" stroke="#111" stroke-width="0.75"/>
<line x1="641.70" y1="405.20" x2="660.40" y2="417.60" stroke="#111" stroke-width="0.75"/>
<line x1="641.70" y1="412.50" x2="660.40" y2="424.90" stroke="#111" stroke-width="0.75"/>
<circle cx="641.70" cy="384.50" r="1.75" fill="#fff" stroke="#222" stroke-width="0.65"/>
<circle cx="641.70" cy="389.50" r="1.75" fill="#fff" stroke="#222" stroke-width="0.65"/>
<circle cx="641.70" cy="391.40" r="1.75" fill="#fff" stroke="#222" stroke-width="0.65"/>
<circle cx="641.70" cy="393.40" r="1.75" fill="#fff" stroke="#222" stroke-width="0.65"/>
<circle cx="641.70" cy="396.00" r="1.75" fill="#fff" stroke="#222" stroke-width="0.65"/>
<circle cx="641.70" cy="398.70" r="1.75" fill="#fff" stroke="#222" stroke-width="0.65"/>
<circle cx="641.70" cy="401.90" r="1.75" fill="#fff" stroke="#222" stroke-width="0.65"/>
<circle cx="641.70" cy="405.20" r="1.75" fill="#fff" stroke="#222" stroke-width="0.65"/>
<circle cx="641.70" cy="412.50" r="1.75" fill="#fff" stroke="#222" stroke-width="0.65"/>
<rect x="658.65" y="382.45" width="3.5" height="3.5" fill="#fff" stroke="#222" stroke-width="0.65"/>
<rect x="658.65" y="403.45" width="3.5" height="3.5" fill="#fff" stroke="#222" stroke-width="0.65"/>
<rect x="658.65" y="412.35" width="3.5" height="3.5" fill="#fff" stroke="#222" stroke-width="0.65"/>
<rect x="658.65" y="415.85" width="3.5" height="3.5" fill="#fff" stroke="#222" stroke-width="0.65"/>
<rect x="658.65" y="423.15" width="3.5" height="3.5" fill="#fff" stroke="#222" stroke-width="0.65"/>
<rect x="658.65" y="426.55" width="3.5" height="3.5" fill="#fff" stroke="#222" stroke-width="0.65"/>
<rect x="658.65" y="428.45" width="3.5" height="3.5" fill="#fff" stroke="#222" stroke-width="0.65"/>
<rect x="658.65" y="415.85" width="3.5" height="3.5" fill="#fff" stroke="#222" stroke-width="0.65"/>
<rect x="658.65" y="423.15" width="3.5" height="3.5" fill="#fff" stroke="#222" stroke-width="0.65"/>
<line x1="585.50" y1="363.50" x2="591.40" y2="363.50" stroke="#222" stroke-width="0.8"/>
<polygon points="586.8,363.3 588.5,361.8 590.2,363.3 588.5,364.8" fill="#222"/>
<text x="595.40" y="365.20" font-size="5.3" fill="#222" stroke="#222" stroke-width="0.12">light-off</text>
<line x1="618.40" y1="363.50" x2="624.90" y2="363.50" stroke="#222" stroke-width="0.8"/>
<rect x="620.10" y="361.80" width="3.0" height="3.0" fill="#fff" stroke="#222" stroke-width="0.8"/>
<text x="628.90" y="365.20" font-size="5.3" fill="#222" stroke="#222" stroke-width="0.12">light-on</text>
<line x1="595.40" y1="378.50" x2="612.10" y2="378.50" stroke="#222" stroke-width="0.8"/>
<text x="588.50" y="376.40" font-size="7.3" fill="#222" stroke="#222" stroke-width="0.12"><tspan font-style="italic">p</tspan><tspan>=0.8117</tspan></text>
<line x1="641.30" y1="377.50" x2="660.00" y2="377.50" stroke="#222" stroke-width="0.8"/>
<text x="647.60" y="375.80" font-size="7.0" fill="#222" stroke="#222" stroke-width="0.12"><tspan dy="2.38" font-weight="bold">**</tspan><tspan dy="-2.38"> </tspan><tspan font-style="italic">p</tspan><tspan>=0.0040</tspan></text>
<text x="602.00" y="441.20" font-size="6.5" fill="#222" stroke="#222" stroke-width="0.12" text-anchor="middle">eYFP</text>
<text x="651.20" y="441.20" font-size="6.5" fill="#222" stroke="#222" stroke-width="0.12" text-anchor="middle">ChR2</text>
<text x="0" y="0" font-size="6.7" fill="#222" stroke="#222" stroke-width="0.12" text-anchor="middle" transform="translate(566.81,398.90) rotate(-90)">Time in ROI (%)</text>
</svg>
</body></html>
